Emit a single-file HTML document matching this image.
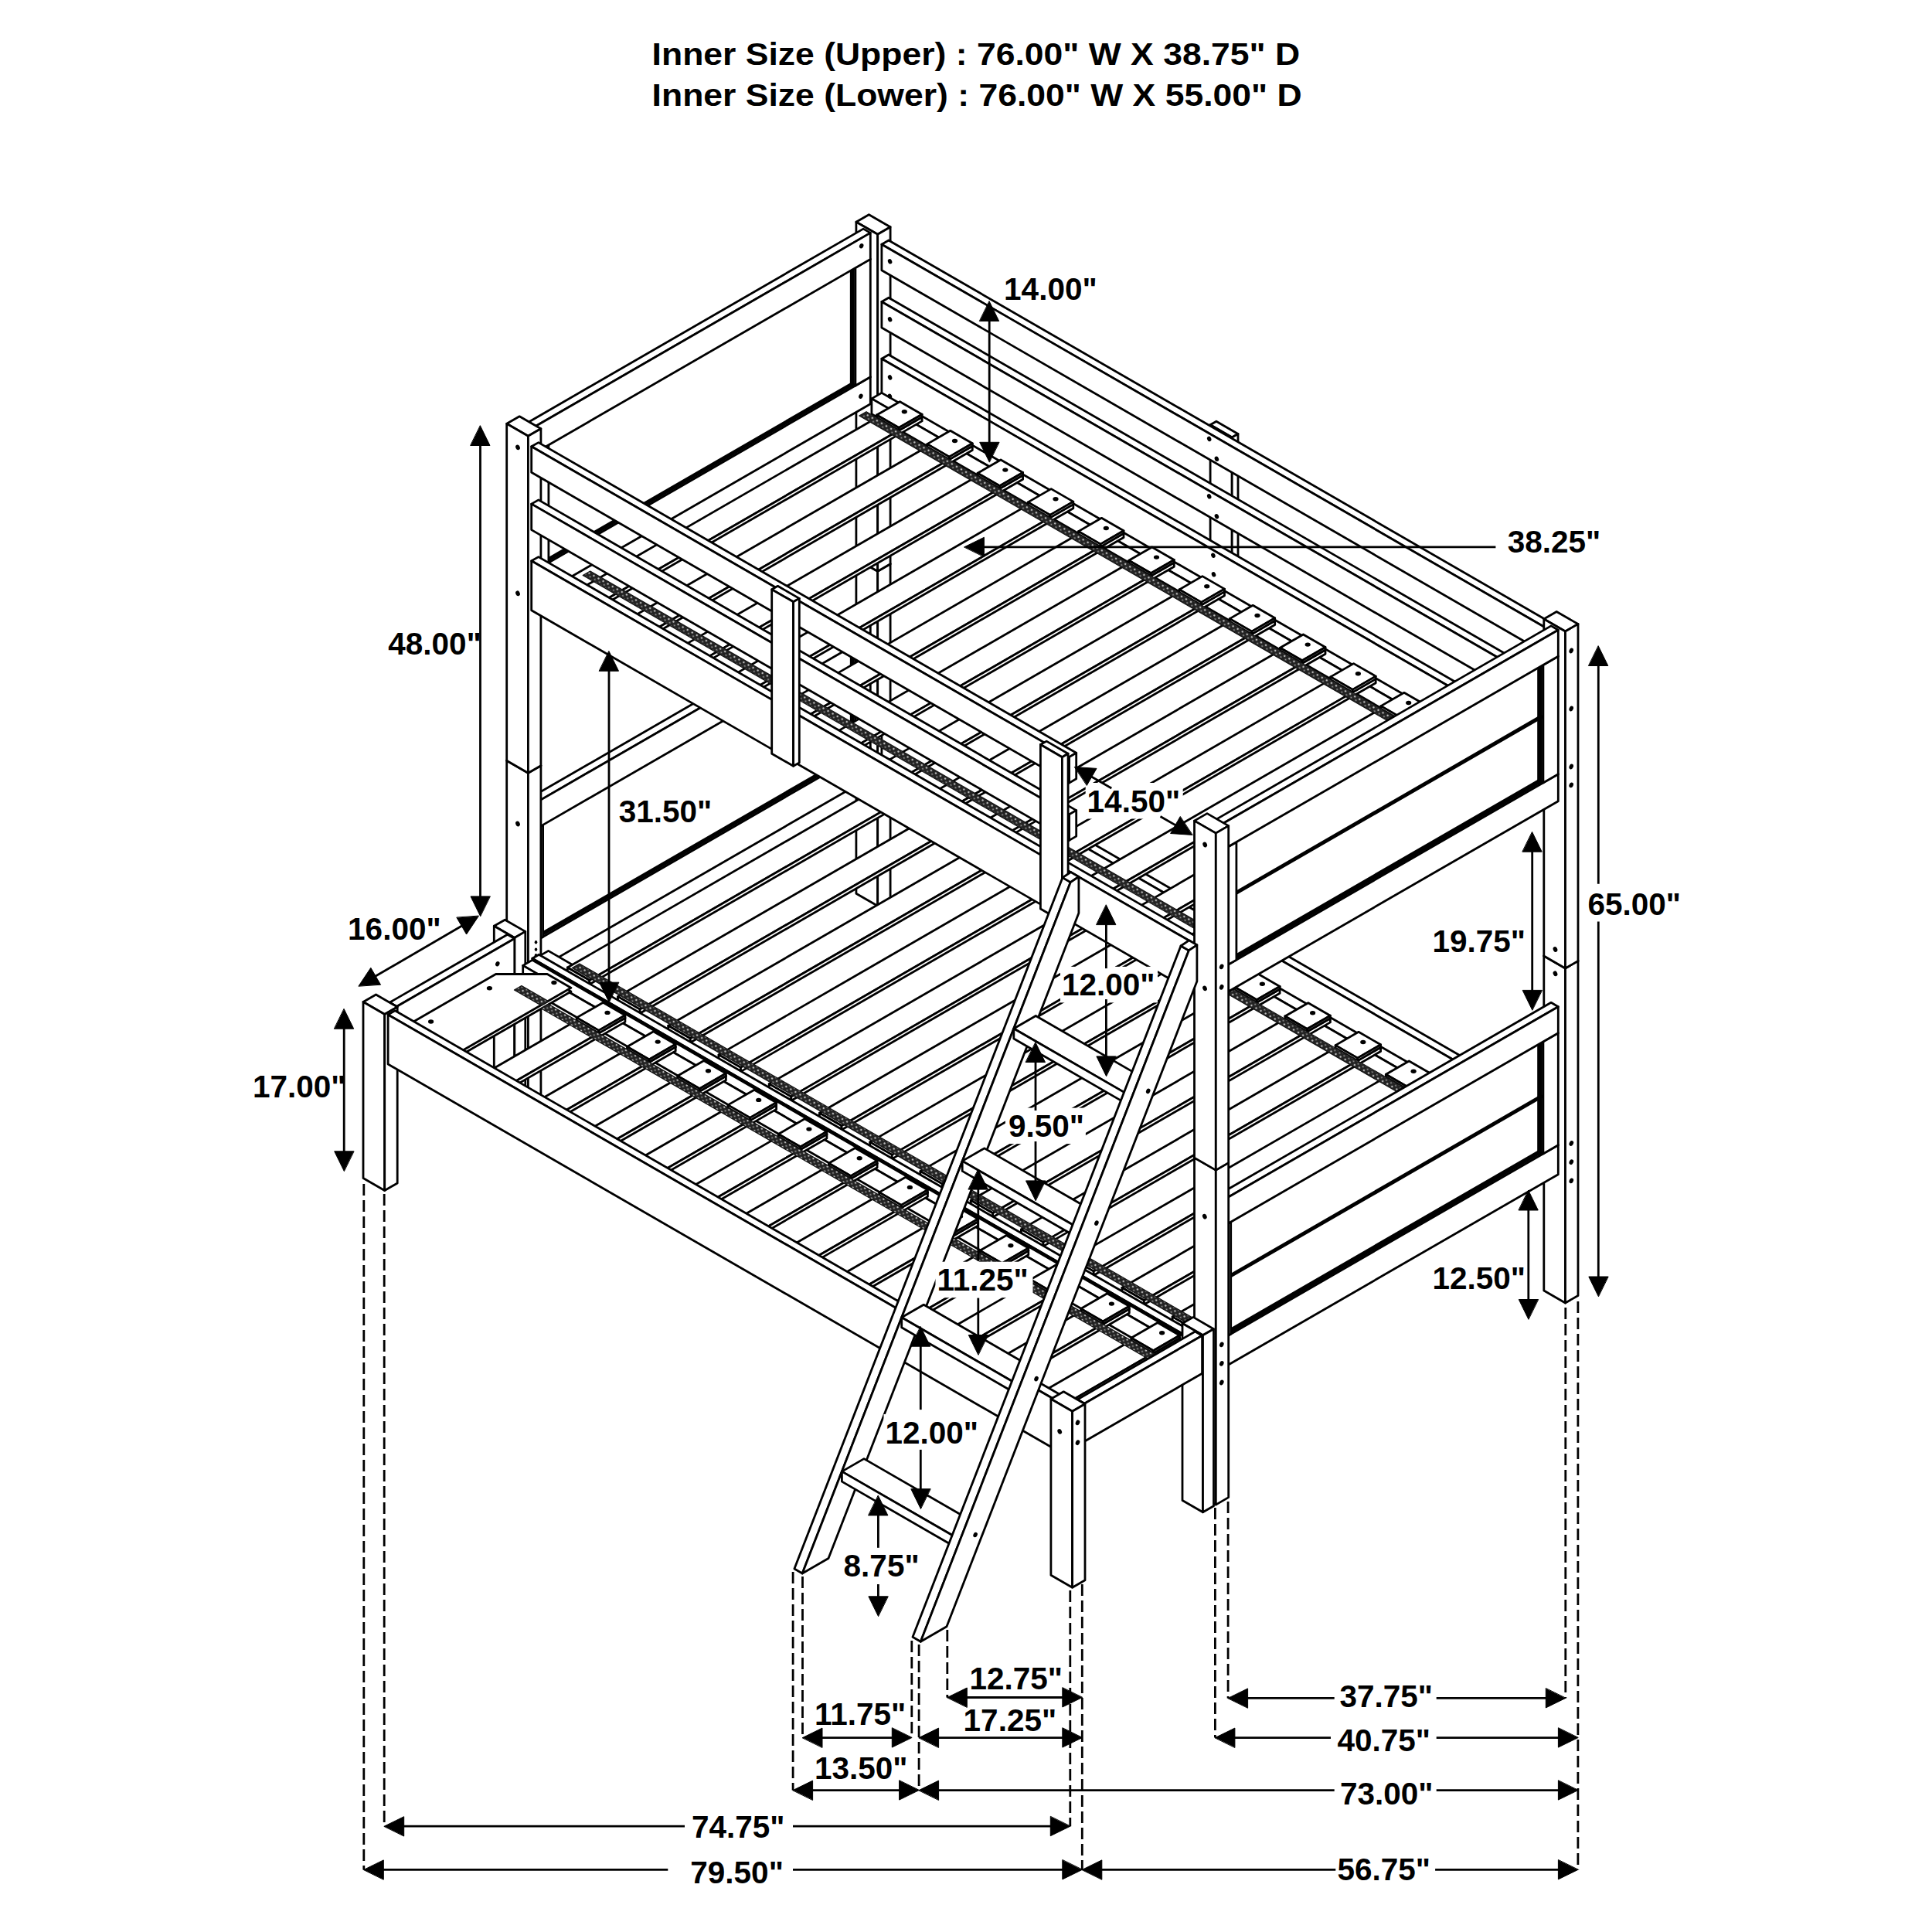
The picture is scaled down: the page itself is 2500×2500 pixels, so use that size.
<!DOCTYPE html><html><head><meta charset="utf-8"><style>html,body{margin:0;padding:0;background:#fff}svg{display:block}text{font-family:"Liberation Sans",sans-serif;font-weight:bold;font-size:40.5px;fill:#000}</style></head><body>
<svg width="2500" height="2500" viewBox="0 0 2500 2500" stroke-linejoin="round" stroke-linecap="round">
<defs><pattern id="hatch" width="7" height="7" patternUnits="userSpaceOnUse" patternTransform="rotate(30)"><rect width="7" height="7" fill="#222"/><circle cx="2" cy="2" r="1.3" fill="#bbb"/><circle cx="5.5" cy="5.5" r="1.1" fill="#999"/></pattern></defs>
<rect width="2500" height="2500" fill="#fff"/>
<polygon points="1107.9,723.2 1124.4,713.7 1152.1,729.7 1152.1,1162.7 1135.7,1172.2 1107.9,1156.2" fill="#fff" stroke="none"/>
<polygon points="1124.4,713.7 1152.1,729.7 1135.7,739.2 1107.9,723.2" fill="#fff" stroke="#000" stroke-width="2.8"/>
<polygon points="1107.9,723.2 1135.7,739.2 1135.7,1172.2 1107.9,1156.2" fill="#fff" stroke="#000" stroke-width="2.8"/>
<polygon points="1152.1,729.7 1135.7,739.2 1135.7,1172.2 1152.1,1162.7" fill="#fff" stroke="#000" stroke-width="2.8"/>

<polygon points="1107.9,287.2 1124.4,277.7 1152.1,293.7 1152.1,729.7 1135.7,739.2 1107.9,723.2" fill="#fff" stroke="none"/>
<polygon points="1124.4,277.7 1152.1,293.7 1135.7,303.2 1107.9,287.2" fill="#fff" stroke="#000" stroke-width="2.8"/>
<polygon points="1107.9,287.2 1135.7,303.2 1135.7,739.2 1107.9,723.2" fill="#fff" stroke="#000" stroke-width="2.8"/>
<polygon points="1152.1,293.7 1135.7,303.2 1135.7,739.2 1152.1,729.7" fill="#fff" stroke="#000" stroke-width="2.8"/>

<polygon points="1566.1,549.7 1573.9,545.2 1602,561.5 1602,772 1594.2,776.5 1566.1,760.2" fill="#fff" stroke="none"/>
<polygon points="1573.9,545.2 1602,561.5 1594.2,566 1566.1,549.7" fill="#fff" stroke="#000" stroke-width="2.8"/>
<polygon points="1566.1,549.7 1594.2,566 1594.2,776.5 1566.1,760.2" fill="#fff" stroke="#000" stroke-width="2.8"/>
<polygon points="1602,561.5 1594.2,566 1594.2,776.5 1602,772" fill="#fff" stroke="#000" stroke-width="2.8"/>

<polygon points="681.3,734.1 1117.1,482.5 1126.3,487.8 1126.3,522.8 690.5,774.4 681.3,769.1" fill="#fff" stroke="none"/>
<polygon points="1117.1,482.5 1126.3,487.8 690.5,739.4 681.3,734.1" fill="#fff" stroke="#000" stroke-width="2.8"/>
<polygon points="681.3,734.1 690.5,739.4 690.5,774.4 681.3,769.1" fill="#fff" stroke="#000" stroke-width="2.8"/>
<polygon points="1126.3,487.8 690.5,739.4 690.5,774.4 1126.3,522.8" fill="#fff" stroke="#000" stroke-width="2.8"/>

<polygon points="1097.7,341.3 1117.1,330.1 1126.3,335.4 1126.3,487.8 1106.9,499 1097.7,493.7" fill="#fff" stroke="none"/>
<polygon points="1117.1,330.1 1126.3,335.4 1106.9,346.6 1097.7,341.3" fill="#fff" stroke="#000" stroke-width="2.8"/>
<polygon points="1097.7,341.3 1106.9,346.6 1106.9,499 1097.7,493.7" fill="#fff" stroke="#000" stroke-width="2.8"/>
<polygon points="1126.3,335.4 1106.9,346.6 1106.9,499 1126.3,487.8" fill="#fff" stroke="#000" stroke-width="2.8"/>

<polygon points="702.5,571.5 1099.5,342.3 1104.3,345.1 1104.3,497.5 707.3,726.7 702.5,723.9" fill="#fff" stroke="none"/>
<polygon points="1099.5,342.3 1104.3,345.1 707.3,574.3 702.5,571.5" fill="#fff" stroke="#000" stroke-width="2.8"/>
<polygon points="702.5,571.5 707.3,574.3 707.3,726.7 702.5,723.9" fill="#fff" stroke="#000" stroke-width="2.8"/>
<polygon points="1104.3,345.1 707.3,574.3 707.3,726.7 1104.3,497.5" fill="#fff" stroke="#000" stroke-width="2.8"/>
<polyline points="1101.7,497 707.3,724.7" fill="none" stroke="#000" stroke-width="4.2" /><polyline points="1102.1,498.8 1102.1,346.4" fill="none" stroke="#000" stroke-width="4.5" />
<polygon points="681.3,581.7 700.7,570.5 709.9,575.8 709.9,728.2 690.5,739.4 681.3,734.1" fill="#fff" stroke="none"/>
<polygon points="700.7,570.5 709.9,575.8 690.5,587 681.3,581.7" fill="#fff" stroke="#000" stroke-width="2.8"/>
<polygon points="681.3,581.7 690.5,587 690.5,739.4 681.3,734.1" fill="#fff" stroke="#000" stroke-width="2.8"/>
<polygon points="709.9,575.8 690.5,587 690.5,739.4 709.9,728.2" fill="#fff" stroke="#000" stroke-width="2.8"/>

<polygon points="681.3,547.7 1117.1,296.1 1126.3,301.4 1126.3,335.4 690.5,587 681.3,581.7" fill="#fff" stroke="none"/>
<polygon points="1117.1,296.1 1126.3,301.4 690.5,553 681.3,547.7" fill="#fff" stroke="#000" stroke-width="2.8"/>
<polygon points="681.3,547.7 690.5,553 690.5,587 681.3,581.7" fill="#fff" stroke="#000" stroke-width="2.8"/>
<polygon points="1126.3,301.4 690.5,553 690.5,587 1126.3,335.4" fill="#fff" stroke="#000" stroke-width="2.8"/>

<polygon points="1140.9,944.2 1149.9,939 2012.1,1436.7 2012.1,1500.7 2003,1506 1140.9,1008.2" fill="#fff" stroke="none"/>
<polygon points="1149.9,939 2012.1,1436.7 2003,1442 1140.9,944.2" fill="#fff" stroke="#000" stroke-width="2.8"/>
<polygon points="1140.9,944.2 2003,1442 2003,1506 1140.9,1008.2" fill="#fff" stroke="#000" stroke-width="2.8"/>
<polygon points="2012.1,1436.7 2003,1442 2003,1506 2012.1,1500.7" fill="#fff" stroke="#000" stroke-width="2.8"/>

<polygon points="1140.9,464.2 1149.9,459 2012.1,956.7 2012.1,1020.7 2003,1026 1140.9,528.2" fill="#fff" stroke="none"/>
<polygon points="1149.9,459 2012.1,956.7 2003,962 1140.9,464.2" fill="#fff" stroke="#000" stroke-width="2.8"/>
<polygon points="1140.9,464.2 2003,962 2003,1026 1140.9,528.2" fill="#fff" stroke="#000" stroke-width="2.8"/>
<polygon points="2012.1,956.7 2003,962 2003,1026 2012.1,1020.7" fill="#fff" stroke="#000" stroke-width="2.8"/>

<polygon points="1140.9,390.5 1149.9,385.2 2012.1,883 2012.1,916.5 2003,921.8 1140.9,424" fill="#fff" stroke="none"/>
<polygon points="1149.9,385.2 2012.1,883 2003,888.2 1140.9,390.5" fill="#fff" stroke="#000" stroke-width="2.8"/>
<polygon points="1140.9,390.5 2003,888.2 2003,921.8 1140.9,424" fill="#fff" stroke="#000" stroke-width="2.8"/>
<polygon points="2012.1,883 2003,888.2 2003,921.8 2012.1,916.5" fill="#fff" stroke="#000" stroke-width="2.8"/>

<polygon points="1140.9,316.2 1149.9,311 2012.1,808.7 2012.1,842.2 2003,847.5 1140.9,349.7" fill="#fff" stroke="none"/>
<polygon points="1149.9,311 2012.1,808.7 2003,814 1140.9,316.2" fill="#fff" stroke="#000" stroke-width="2.8"/>
<polygon points="1140.9,316.2 2003,814 2003,847.5 1140.9,349.7" fill="#fff" stroke="#000" stroke-width="2.8"/>
<polygon points="2012.1,808.7 2003,814 2003,847.5 2012.1,842.2" fill="#fff" stroke="#000" stroke-width="2.8"/>

<polygon points="681.3,1214.1 1117.1,962.5 1126.3,967.8 1126.3,1005.8 690.5,1257.4 681.3,1252.1" fill="#fff" stroke="none"/>
<polygon points="1117.1,962.5 1126.3,967.8 690.5,1219.4 681.3,1214.1" fill="#fff" stroke="#000" stroke-width="2.8"/>
<polygon points="681.3,1214.1 690.5,1219.4 690.5,1257.4 681.3,1252.1" fill="#fff" stroke="#000" stroke-width="2.8"/>
<polygon points="1126.3,967.8 690.5,1219.4 690.5,1257.4 1126.3,1005.8" fill="#fff" stroke="#000" stroke-width="2.8"/>

<polygon points="1127.9,988.9 1140.9,981.4 2003,1479.2 2003,1506 1990,1513.5 1127.9,1015.7" fill="#fff" stroke="none"/>
<polygon points="1140.9,981.4 2003,1479.2 1990,1486.7 1127.9,988.9" fill="#fff" stroke="#000" stroke-width="2.8"/>
<polygon points="1127.9,988.9 1990,1486.7 1990,1513.5 1127.9,1015.7" fill="#fff" stroke="#000" stroke-width="2.8"/>
<polygon points="2003,1479.2 1990,1486.7 1990,1513.5 2003,1506" fill="#fff" stroke="#000" stroke-width="2.8"/>

<polygon points="1997.8,1237 2014.2,1227.5 2042,1243.5 2042,1676.5 2025.5,1686 1997.8,1670" fill="#fff" stroke="none"/>
<polygon points="2014.2,1227.5 2042,1243.5 2025.5,1253 1997.8,1237" fill="#fff" stroke="#000" stroke-width="2.8"/>
<polygon points="1997.8,1237 2025.5,1253 2025.5,1686 1997.8,1670" fill="#fff" stroke="#000" stroke-width="2.8"/>
<polygon points="2042,1243.5 2025.5,1253 2025.5,1686 2042,1676.5" fill="#fff" stroke="#000" stroke-width="2.8"/>

<polygon points="1097.7,828.7 1117.1,817.5 1126.3,822.8 1126.3,967.8 1106.9,979 1097.7,973.7" fill="#fff" stroke="none"/>
<polygon points="1117.1,817.5 1126.3,822.8 1106.9,834 1097.7,828.7" fill="#fff" stroke="#000" stroke-width="2.8"/>
<polygon points="1097.7,828.7 1106.9,834 1106.9,979 1097.7,973.7" fill="#fff" stroke="#000" stroke-width="2.8"/>
<polygon points="1126.3,822.8 1106.9,834 1106.9,979 1126.3,967.8" fill="#fff" stroke="#000" stroke-width="2.8"/>

<polygon points="695.2,1063.1 1099.5,829.7 1104.3,832.5 1104.3,977.5 700,1210.9 695.2,1208.1" fill="#fff" stroke="none"/>
<polygon points="1099.5,829.7 1104.3,832.5 700,1065.9 695.2,1063.1" fill="#fff" stroke="#000" stroke-width="2.8"/>
<polygon points="695.2,1063.1 700,1065.9 700,1210.9 695.2,1208.1" fill="#fff" stroke="#000" stroke-width="2.8"/>
<polygon points="1104.3,832.5 700,1065.9 700,1210.9 1104.3,977.5" fill="#fff" stroke="#000" stroke-width="2.8"/>
<polyline points="1101.7,977 700,1208.9" fill="none" stroke="#000" stroke-width="4.2" /><polyline points="1102.1,978.8 1102.1,833.8" fill="none" stroke="#000" stroke-width="4.5" />
<polygon points="681.3,1069.1 693.5,1062.1 702.6,1067.4 702.6,1212.4 690.5,1219.4 681.3,1214.1" fill="#fff" stroke="none"/>
<polygon points="693.5,1062.1 702.6,1067.4 690.5,1074.4 681.3,1069.1" fill="#fff" stroke="#000" stroke-width="2.8"/>
<polygon points="681.3,1069.1 690.5,1074.4 690.5,1219.4 681.3,1214.1" fill="#fff" stroke="#000" stroke-width="2.8"/>
<polygon points="702.6,1067.4 690.5,1074.4 690.5,1219.4 702.6,1212.4" fill="#fff" stroke="#000" stroke-width="2.8"/>

<polygon points="681.3,1035.1 1117.1,783.5 1126.3,788.8 1126.3,822.8 690.5,1074.4 681.3,1069.1" fill="#fff" stroke="none"/>
<polygon points="1117.1,783.5 1126.3,788.8 690.5,1040.4 681.3,1035.1" fill="#fff" stroke="#000" stroke-width="2.8"/>
<polygon points="681.3,1035.1 690.5,1040.4 690.5,1074.4 681.3,1069.1" fill="#fff" stroke="#000" stroke-width="2.8"/>
<polygon points="1126.3,788.8 690.5,1040.4 690.5,1074.4 1126.3,822.8" fill="#fff" stroke="#000" stroke-width="2.8"/>

<polygon points="655.7,984.3 672.2,974.8 699.9,990.8 699.9,1423.8 683.4,1433.3 655.7,1417.3" fill="#fff" stroke="none"/>
<polygon points="672.2,974.8 699.9,990.8 683.4,1000.3 655.7,984.3" fill="#fff" stroke="#000" stroke-width="2.8"/>
<polygon points="655.7,984.3 683.4,1000.3 683.4,1433.3 655.7,1417.3" fill="#fff" stroke="#000" stroke-width="2.8"/>
<polygon points="699.9,990.8 683.4,1000.3 683.4,1433.3 699.9,1423.8" fill="#fff" stroke="#000" stroke-width="2.8"/>

<polygon points="655.7,548.3 672.2,538.8 699.9,554.8 699.9,990.8 683.4,1000.3 655.7,984.3" fill="#fff" stroke="none"/>
<polygon points="672.2,538.8 699.9,554.8 683.4,564.3 655.7,548.3" fill="#fff" stroke="#000" stroke-width="2.8"/>
<polygon points="655.7,548.3 683.4,564.3 683.4,1000.3 655.7,984.3" fill="#fff" stroke="#000" stroke-width="2.8"/>
<polygon points="699.9,554.8 683.4,564.3 683.4,1000.3 699.9,990.8" fill="#fff" stroke="#000" stroke-width="2.8"/>

<polygon points="697.4,1237.4 709.6,1230.4 1571.7,1728.2 1571.7,1755 1559.6,1762 697.4,1264.2" fill="#fff" stroke="none"/>
<polygon points="709.6,1230.4 1571.7,1728.2 1559.6,1735.2 697.4,1237.4" fill="#fff" stroke="#000" stroke-width="2.8"/>
<polygon points="697.4,1237.4 1559.6,1735.2 1559.6,1762 697.4,1264.2" fill="#fff" stroke="#000" stroke-width="2.8"/>
<polygon points="1571.7,1728.2 1559.6,1735.2 1559.6,1762 1571.7,1755" fill="#fff" stroke="#000" stroke-width="2.8"/>

<polygon points="734.3,1252 1170.9,999.9 1199.5,1016.4 1199.5,1021.6 762.8,1273.7 734.3,1257.2" fill="#fff" stroke="none"/>
<polygon points="1170.9,999.9 1199.5,1016.4 762.8,1268.5 734.3,1252" fill="#fff" stroke="#000" stroke-width="2.8"/>
<polygon points="734.3,1252 762.8,1268.5 762.8,1273.7 734.3,1257.2" fill="#fff" stroke="#000" stroke-width="2.8"/>
<polygon points="1199.5,1016.4 762.8,1268.5 762.8,1273.7 1199.5,1021.6" fill="#fff" stroke="#000" stroke-width="2.8"/>

<polygon points="1140.9,1013.7 1170.9,996.4 1199.5,1012.9 1199.5,1016.4 1169.5,1033.7 1140.9,1017.2" fill="#fff" stroke="none"/>
<polygon points="1170.9,996.4 1199.5,1012.9 1169.5,1030.2 1140.9,1013.7" fill="#fff" stroke="#000" stroke-width="2.8"/>
<polygon points="1140.9,1013.7 1169.5,1030.2 1169.5,1033.7 1140.9,1017.2" fill="#fff" stroke="#000" stroke-width="2.8"/>
<polygon points="1199.5,1012.9 1169.5,1030.2 1169.5,1033.7 1199.5,1016.4" fill="#fff" stroke="#000" stroke-width="2.8"/>
<ellipse cx="1176.7" cy="1009.5" rx="3.6" ry="2.7" transform="rotate(0 1176.7 1009.5)" fill="#000"/>
<polygon points="799.5,1289.6 1236.1,1037.5 1264.7,1054 1264.7,1059.2 828.1,1311.3 799.5,1294.8" fill="#fff" stroke="none"/>
<polygon points="1236.1,1037.5 1264.7,1054 828.1,1306.1 799.5,1289.6" fill="#fff" stroke="#000" stroke-width="2.8"/>
<polygon points="799.5,1289.6 828.1,1306.1 828.1,1311.3 799.5,1294.8" fill="#fff" stroke="#000" stroke-width="2.8"/>
<polygon points="1264.7,1054 828.1,1306.1 828.1,1311.3 1264.7,1059.2" fill="#fff" stroke="#000" stroke-width="2.8"/>

<polygon points="1206.2,1051.3 1236.1,1034 1264.7,1050.5 1264.7,1054 1234.8,1071.3 1206.2,1054.8" fill="#fff" stroke="none"/>
<polygon points="1236.1,1034 1264.7,1050.5 1234.8,1067.8 1206.2,1051.3" fill="#fff" stroke="#000" stroke-width="2.8"/>
<polygon points="1206.2,1051.3 1234.8,1067.8 1234.8,1071.3 1206.2,1054.8" fill="#fff" stroke="#000" stroke-width="2.8"/>
<polygon points="1264.7,1050.5 1234.8,1067.8 1234.8,1071.3 1264.7,1054" fill="#fff" stroke="#000" stroke-width="2.8"/>
<ellipse cx="1241.9" cy="1047.2" rx="3.6" ry="2.7" transform="rotate(0 1241.9 1047.2)" fill="#000"/>
<polygon points="1127.9,515.9 1140.9,508.4 2003,1006.2 2003,1026 1990,1033.5 1127.9,535.7" fill="#fff" stroke="none"/>
<polygon points="1140.9,508.4 2003,1006.2 1990,1013.7 1127.9,515.9" fill="#fff" stroke="#000" stroke-width="2.8"/>
<polygon points="1127.9,515.9 1990,1013.7 1990,1033.5 1127.9,535.7" fill="#fff" stroke="#000" stroke-width="2.8"/>
<polygon points="2003,1006.2 1990,1013.7 1990,1033.5 2003,1026" fill="#fff" stroke="#000" stroke-width="2.8"/>

<polygon points="1997.8,801 2014.2,791.5 2042,807.5 2042,1243.5 2025.5,1253 1997.8,1237" fill="#fff" stroke="none"/>
<polygon points="2014.2,791.5 2042,807.5 2025.5,817 1997.8,801" fill="#fff" stroke="#000" stroke-width="2.8"/>
<polygon points="1997.8,801 2025.5,817 2025.5,1253 1997.8,1237" fill="#fff" stroke="#000" stroke-width="2.8"/>
<polygon points="2042,807.5 2025.5,817 2025.5,1253 2042,1243.5" fill="#fff" stroke="#000" stroke-width="2.8"/>

<polygon points="864.7,1327.3 1301.4,1075.2 1330,1091.7 1330,1096.9 893.3,1349 864.7,1332.5" fill="#fff" stroke="none"/>
<polygon points="1301.4,1075.2 1330,1091.7 893.3,1343.8 864.7,1327.3" fill="#fff" stroke="#000" stroke-width="2.8"/>
<polygon points="864.7,1327.3 893.3,1343.8 893.3,1349 864.7,1332.5" fill="#fff" stroke="#000" stroke-width="2.8"/>
<polygon points="1330,1091.7 893.3,1343.8 893.3,1349 1330,1096.9" fill="#fff" stroke="#000" stroke-width="2.8"/>

<polygon points="1271.4,1089 1301.4,1071.7 1330,1088.2 1330,1091.7 1300,1109 1271.4,1092.5" fill="#fff" stroke="none"/>
<polygon points="1301.4,1071.7 1330,1088.2 1300,1105.5 1271.4,1089" fill="#fff" stroke="#000" stroke-width="2.8"/>
<polygon points="1271.4,1089 1300,1105.5 1300,1109 1271.4,1092.5" fill="#fff" stroke="#000" stroke-width="2.8"/>
<polygon points="1330,1088.2 1300,1105.5 1300,1109 1330,1091.7" fill="#fff" stroke="#000" stroke-width="2.8"/>
<ellipse cx="1307.2" cy="1084.8" rx="3.6" ry="2.7" transform="rotate(0 1307.2 1084.8)" fill="#000"/>
<polygon points="930,1364.9 1366.6,1112.8 1395.2,1129.3 1395.2,1134.5 958.5,1386.6 930,1370.1" fill="#fff" stroke="none"/>
<polygon points="1366.6,1112.8 1395.2,1129.3 958.5,1381.4 930,1364.9" fill="#fff" stroke="#000" stroke-width="2.8"/>
<polygon points="930,1364.9 958.5,1381.4 958.5,1386.6 930,1370.1" fill="#fff" stroke="#000" stroke-width="2.8"/>
<polygon points="1395.2,1129.3 958.5,1381.4 958.5,1386.6 1395.2,1134.5" fill="#fff" stroke="#000" stroke-width="2.8"/>

<polygon points="1336.7,1126.6 1366.6,1109.3 1395.2,1125.8 1395.2,1129.3 1365.2,1146.6 1336.7,1130.1" fill="#fff" stroke="none"/>
<polygon points="1366.6,1109.3 1395.2,1125.8 1365.2,1143.1 1336.7,1126.6" fill="#fff" stroke="#000" stroke-width="2.8"/>
<polygon points="1336.7,1126.6 1365.2,1143.1 1365.2,1146.6 1336.7,1130.1" fill="#fff" stroke="#000" stroke-width="2.8"/>
<polygon points="1395.2,1125.8 1365.2,1143.1 1365.2,1146.6 1395.2,1129.3" fill="#fff" stroke="#000" stroke-width="2.8"/>
<ellipse cx="1372.4" cy="1122.5" rx="3.6" ry="2.7" transform="rotate(0 1372.4 1122.5)" fill="#000"/>
<polygon points="995.2,1402.6 1431.9,1150.5 1460.4,1167 1460.4,1172.2 1023.8,1424.3 995.2,1407.8" fill="#fff" stroke="none"/>
<polygon points="1431.9,1150.5 1460.4,1167 1023.8,1419.1 995.2,1402.6" fill="#fff" stroke="#000" stroke-width="2.8"/>
<polygon points="995.2,1402.6 1023.8,1419.1 1023.8,1424.3 995.2,1407.8" fill="#fff" stroke="#000" stroke-width="2.8"/>
<polygon points="1460.4,1167 1023.8,1419.1 1023.8,1424.3 1460.4,1172.2" fill="#fff" stroke="#000" stroke-width="2.8"/>

<polygon points="1401.9,1164.3 1431.9,1147 1460.4,1163.5 1460.4,1167 1430.5,1184.3 1401.9,1167.8" fill="#fff" stroke="none"/>
<polygon points="1431.9,1147 1460.4,1163.5 1430.5,1180.8 1401.9,1164.3" fill="#fff" stroke="#000" stroke-width="2.8"/>
<polygon points="1401.9,1164.3 1430.5,1180.8 1430.5,1184.3 1401.9,1167.8" fill="#fff" stroke="#000" stroke-width="2.8"/>
<polygon points="1460.4,1163.5 1430.5,1180.8 1430.5,1184.3 1460.4,1167" fill="#fff" stroke="#000" stroke-width="2.8"/>
<ellipse cx="1437.7" cy="1160.2" rx="3.6" ry="2.7" transform="rotate(0 1437.7 1160.2)" fill="#000"/>
<polygon points="1060.4,1440.3 1497.1,1188.2 1525.7,1204.7 1525.7,1209.9 1089,1462 1060.4,1445.5" fill="#fff" stroke="none"/>
<polygon points="1497.1,1188.2 1525.7,1204.7 1089,1456.8 1060.4,1440.3" fill="#fff" stroke="#000" stroke-width="2.8"/>
<polygon points="1060.4,1440.3 1089,1456.8 1089,1462 1060.4,1445.5" fill="#fff" stroke="#000" stroke-width="2.8"/>
<polygon points="1525.7,1204.7 1089,1456.8 1089,1462 1525.7,1209.9" fill="#fff" stroke="#000" stroke-width="2.8"/>

<polygon points="1467.1,1202 1497.1,1184.7 1525.7,1201.2 1525.7,1204.7 1495.7,1222 1467.1,1205.5" fill="#fff" stroke="none"/>
<polygon points="1497.1,1184.7 1525.7,1201.2 1495.7,1218.5 1467.1,1202" fill="#fff" stroke="#000" stroke-width="2.8"/>
<polygon points="1467.1,1202 1495.7,1218.5 1495.7,1222 1467.1,1205.5" fill="#fff" stroke="#000" stroke-width="2.8"/>
<polygon points="1525.7,1201.2 1495.7,1218.5 1495.7,1222 1525.7,1204.7" fill="#fff" stroke="#000" stroke-width="2.8"/>
<ellipse cx="1502.9" cy="1197.8" rx="3.6" ry="2.7" transform="rotate(0 1502.9 1197.8)" fill="#000"/>
<polygon points="1125.7,1477.9 1562.3,1225.8 1590.9,1242.3 1590.9,1247.5 1154.3,1499.6 1125.7,1483.1" fill="#fff" stroke="none"/>
<polygon points="1562.3,1225.8 1590.9,1242.3 1154.3,1494.4 1125.7,1477.9" fill="#fff" stroke="#000" stroke-width="2.8"/>
<polygon points="1125.7,1477.9 1154.3,1494.4 1154.3,1499.6 1125.7,1483.1" fill="#fff" stroke="#000" stroke-width="2.8"/>
<polygon points="1590.9,1242.3 1154.3,1494.4 1154.3,1499.6 1590.9,1247.5" fill="#fff" stroke="#000" stroke-width="2.8"/>

<polygon points="1532.4,1239.6 1562.3,1222.3 1590.9,1238.8 1590.9,1242.3 1560.9,1259.6 1532.4,1243.1" fill="#fff" stroke="none"/>
<polygon points="1562.3,1222.3 1590.9,1238.8 1560.9,1256.1 1532.4,1239.6" fill="#fff" stroke="#000" stroke-width="2.8"/>
<polygon points="1532.4,1239.6 1560.9,1256.1 1560.9,1259.6 1532.4,1243.1" fill="#fff" stroke="#000" stroke-width="2.8"/>
<polygon points="1590.9,1238.8 1560.9,1256.1 1560.9,1259.6 1590.9,1242.3" fill="#fff" stroke="#000" stroke-width="2.8"/>
<ellipse cx="1568.1" cy="1235.5" rx="3.6" ry="2.7" transform="rotate(0 1568.1 1235.5)" fill="#000"/>
<polygon points="1190.9,1515.6 1627.6,1263.5 1656.1,1280 1656.1,1285.2 1219.5,1537.3 1190.9,1520.8" fill="#fff" stroke="none"/>
<polygon points="1627.6,1263.5 1656.1,1280 1219.5,1532.1 1190.9,1515.6" fill="#fff" stroke="#000" stroke-width="2.8"/>
<polygon points="1190.9,1515.6 1219.5,1532.1 1219.5,1537.3 1190.9,1520.8" fill="#fff" stroke="#000" stroke-width="2.8"/>
<polygon points="1656.1,1280 1219.5,1532.1 1219.5,1537.3 1656.1,1285.2" fill="#fff" stroke="#000" stroke-width="2.8"/>

<polygon points="1597.6,1277.3 1627.6,1260 1656.1,1276.5 1656.1,1280 1626.2,1297.3 1597.6,1280.8" fill="#fff" stroke="none"/>
<polygon points="1627.6,1260 1656.1,1276.5 1626.2,1293.8 1597.6,1277.3" fill="#fff" stroke="#000" stroke-width="2.8"/>
<polygon points="1597.6,1277.3 1626.2,1293.8 1626.2,1297.3 1597.6,1280.8" fill="#fff" stroke="#000" stroke-width="2.8"/>
<polygon points="1656.1,1276.5 1626.2,1293.8 1626.2,1297.3 1656.1,1280" fill="#fff" stroke="#000" stroke-width="2.8"/>
<ellipse cx="1633.4" cy="1273.2" rx="3.6" ry="2.7" transform="rotate(0 1633.4 1273.2)" fill="#000"/>
<polygon points="1256.2,1553.3 1692.8,1301.2 1721.4,1317.7 1721.4,1322.9 1284.7,1575 1256.2,1558.5" fill="#fff" stroke="none"/>
<polygon points="1692.8,1301.2 1721.4,1317.7 1284.7,1569.8 1256.2,1553.3" fill="#fff" stroke="#000" stroke-width="2.8"/>
<polygon points="1256.2,1553.3 1284.7,1569.8 1284.7,1575 1256.2,1558.5" fill="#fff" stroke="#000" stroke-width="2.8"/>
<polygon points="1721.4,1317.7 1284.7,1569.8 1284.7,1575 1721.4,1322.9" fill="#fff" stroke="#000" stroke-width="2.8"/>

<polygon points="1662.8,1315 1692.8,1297.7 1721.4,1314.2 1721.4,1317.7 1691.4,1335 1662.8,1318.5" fill="#fff" stroke="none"/>
<polygon points="1692.8,1297.7 1721.4,1314.2 1691.4,1331.5 1662.8,1315" fill="#fff" stroke="#000" stroke-width="2.8"/>
<polygon points="1662.8,1315 1691.4,1331.5 1691.4,1335 1662.8,1318.5" fill="#fff" stroke="#000" stroke-width="2.8"/>
<polygon points="1721.4,1314.2 1691.4,1331.5 1691.4,1335 1721.4,1317.7" fill="#fff" stroke="#000" stroke-width="2.8"/>
<ellipse cx="1698.6" cy="1310.8" rx="3.6" ry="2.7" transform="rotate(0 1698.6 1310.8)" fill="#000"/>
<polygon points="1321.4,1590.9 1758,1338.8 1786.6,1355.3 1786.6,1360.5 1350,1612.6 1321.4,1596.1" fill="#fff" stroke="none"/>
<polygon points="1758,1338.8 1786.6,1355.3 1350,1607.4 1321.4,1590.9" fill="#fff" stroke="#000" stroke-width="2.8"/>
<polygon points="1321.4,1590.9 1350,1607.4 1350,1612.6 1321.4,1596.1" fill="#fff" stroke="#000" stroke-width="2.8"/>
<polygon points="1786.6,1355.3 1350,1607.4 1350,1612.6 1786.6,1360.5" fill="#fff" stroke="#000" stroke-width="2.8"/>

<polygon points="1728.1,1352.6 1758,1335.3 1786.6,1351.8 1786.6,1355.3 1756.7,1372.6 1728.1,1356.1" fill="#fff" stroke="none"/>
<polygon points="1758,1335.3 1786.6,1351.8 1756.7,1369.1 1728.1,1352.6" fill="#fff" stroke="#000" stroke-width="2.8"/>
<polygon points="1728.1,1352.6 1756.7,1369.1 1756.7,1372.6 1728.1,1356.1" fill="#fff" stroke="#000" stroke-width="2.8"/>
<polygon points="1786.6,1351.8 1756.7,1369.1 1756.7,1372.6 1786.6,1355.3" fill="#fff" stroke="#000" stroke-width="2.8"/>
<ellipse cx="1763.8" cy="1348.5" rx="3.6" ry="2.7" transform="rotate(0 1763.8 1348.5)" fill="#000"/>
<polygon points="1386.6,1628.6 1823.3,1376.5 1851.9,1393 1851.9,1398.2 1415.2,1650.3 1386.6,1633.8" fill="#fff" stroke="none"/>
<polygon points="1823.3,1376.5 1851.9,1393 1415.2,1645.1 1386.6,1628.6" fill="#fff" stroke="#000" stroke-width="2.8"/>
<polygon points="1386.6,1628.6 1415.2,1645.1 1415.2,1650.3 1386.6,1633.8" fill="#fff" stroke="#000" stroke-width="2.8"/>
<polygon points="1851.9,1393 1415.2,1645.1 1415.2,1650.3 1851.9,1398.2" fill="#fff" stroke="#000" stroke-width="2.8"/>

<polygon points="1793.3,1390.3 1823.3,1373 1851.9,1389.5 1851.9,1393 1821.9,1410.3 1793.3,1393.8" fill="#fff" stroke="none"/>
<polygon points="1823.3,1373 1851.9,1389.5 1821.9,1406.8 1793.3,1390.3" fill="#fff" stroke="#000" stroke-width="2.8"/>
<polygon points="1793.3,1390.3 1821.9,1406.8 1821.9,1410.3 1793.3,1393.8" fill="#fff" stroke="#000" stroke-width="2.8"/>
<polygon points="1851.9,1389.5 1821.9,1406.8 1821.9,1410.3 1851.9,1393" fill="#fff" stroke="#000" stroke-width="2.8"/>
<ellipse cx="1829.1" cy="1386.2" rx="3.6" ry="2.7" transform="rotate(0 1829.1 1386.2)" fill="#000"/>
<polygon points="1451.9,1666.3 1888.5,1414.2 1917.1,1430.7 1917.1,1435.9 1480.4,1688 1451.9,1671.5" fill="#fff" stroke="none"/>
<polygon points="1888.5,1414.2 1917.1,1430.7 1480.4,1682.8 1451.9,1666.3" fill="#fff" stroke="#000" stroke-width="2.8"/>
<polygon points="1451.9,1666.3 1480.4,1682.8 1480.4,1688 1451.9,1671.5" fill="#fff" stroke="#000" stroke-width="2.8"/>
<polygon points="1917.1,1430.7 1480.4,1682.8 1480.4,1688 1917.1,1435.9" fill="#fff" stroke="#000" stroke-width="2.8"/>

<polygon points="1858.6,1428 1888.5,1410.7 1917.1,1427.2 1917.1,1430.7 1887.1,1448 1858.6,1431.5" fill="#fff" stroke="none"/>
<polygon points="1888.5,1410.7 1917.1,1427.2 1887.1,1444.5 1858.6,1428" fill="#fff" stroke="#000" stroke-width="2.8"/>
<polygon points="1858.6,1428 1887.1,1444.5 1887.1,1448 1858.6,1431.5" fill="#fff" stroke="#000" stroke-width="2.8"/>
<polygon points="1917.1,1427.2 1887.1,1444.5 1887.1,1448 1917.1,1430.7" fill="#fff" stroke="#000" stroke-width="2.8"/>
<ellipse cx="1894.3" cy="1423.8" rx="3.6" ry="2.7" transform="rotate(0 1894.3 1423.8)" fill="#000"/>
<polygon points="1517.1,1703.9 1953.8,1451.8 1982.3,1468.3 1982.3,1473.5 1545.7,1725.6 1517.1,1709.1" fill="#fff" stroke="none"/>
<polygon points="1953.8,1451.8 1982.3,1468.3 1545.7,1720.4 1517.1,1703.9" fill="#fff" stroke="#000" stroke-width="2.8"/>
<polygon points="1517.1,1703.9 1545.7,1720.4 1545.7,1725.6 1517.1,1709.1" fill="#fff" stroke="#000" stroke-width="2.8"/>
<polygon points="1982.3,1468.3 1545.7,1720.4 1545.7,1725.6 1982.3,1473.5" fill="#fff" stroke="#000" stroke-width="2.8"/>

<polygon points="688.8,1240.2 697.4,1235.2 1559.6,1733 1559.6,1783 1550.9,1788 688.8,1290.2" fill="#fff" stroke="none"/>
<polygon points="697.4,1235.2 1559.6,1733 1550.9,1738 688.8,1240.2" fill="#fff" stroke="#000" stroke-width="2.8"/>
<polygon points="688.8,1240.2 1550.9,1738 1550.9,1788 688.8,1290.2" fill="#fff" stroke="#000" stroke-width="2.8"/>
<polygon points="1559.6,1733 1550.9,1738 1550.9,1788 1559.6,1783" fill="#fff" stroke="#000" stroke-width="2.8"/>

<polygon points="1923.8,1465.6 1953.8,1448.3 1982.3,1464.8 1982.3,1468.3 1952.4,1485.6 1923.8,1469.1" fill="#fff" stroke="none"/>
<polygon points="1953.8,1448.3 1982.3,1464.8 1952.4,1482.1 1923.8,1465.6" fill="#fff" stroke="#000" stroke-width="2.8"/>
<polygon points="1923.8,1465.6 1952.4,1482.1 1952.4,1485.6 1923.8,1469.1" fill="#fff" stroke="#000" stroke-width="2.8"/>
<polygon points="1982.3,1464.8 1952.4,1482.1 1952.4,1485.6 1982.3,1468.3" fill="#fff" stroke="#000" stroke-width="2.8"/>
<ellipse cx="1959.6" cy="1461.5" rx="3.6" ry="2.7" transform="rotate(0 1959.6 1461.5)" fill="#000"/>
<polygon points="1128,1009.7 1956.7,1488.2 1947.6,1493.5 1118.8,1015" fill="url(#hatch)" stroke="#111" stroke-width="1.2"/>
<polygon points="749.8,1247 1562.2,1716 1552.6,1721.5 740.3,1252.5" fill="url(#hatch)" stroke="#111" stroke-width="1.2"/>
<polygon points="696.8,764.8 709.8,757.3 1572,1255 1572,1274.8 1559,1282.3 696.8,784.6" fill="#fff" stroke="none"/>
<polygon points="709.8,757.3 1572,1255 1559,1262.5 696.8,764.8" fill="#fff" stroke="#000" stroke-width="2.8"/>
<polygon points="696.8,764.8 1559,1262.5 1559,1282.3 696.8,784.6" fill="#fff" stroke="#000" stroke-width="2.8"/>
<polygon points="1572,1255 1559,1262.5 1559,1282.3 1572,1274.8" fill="#fff" stroke="#000" stroke-width="2.8"/>

<polygon points="727.2,775.6 1164.5,523.2 1193.1,539.7 1193.1,544.9 755.8,797.3 727.2,780.8" fill="#fff" stroke="none"/>
<polygon points="1164.5,523.2 1193.1,539.7 755.8,792.1 727.2,775.6" fill="#fff" stroke="#000" stroke-width="2.8"/>
<polygon points="727.2,775.6 755.8,792.1 755.8,797.3 727.2,780.8" fill="#fff" stroke="#000" stroke-width="2.8"/>
<polygon points="1193.1,539.7 755.8,792.1 755.8,797.3 1193.1,544.9" fill="#fff" stroke="#000" stroke-width="2.8"/>

<polygon points="1134.5,537 1164.5,519.7 1193.1,536.2 1193.1,539.7 1163.1,557 1134.5,540.5" fill="#fff" stroke="none"/>
<polygon points="1164.5,519.7 1193.1,536.2 1163.1,553.5 1134.5,537" fill="#fff" stroke="#000" stroke-width="2.8"/>
<polygon points="1134.5,537 1163.1,553.5 1163.1,557 1134.5,540.5" fill="#fff" stroke="#000" stroke-width="2.8"/>
<polygon points="1193.1,536.2 1163.1,553.5 1163.1,557 1193.1,539.7" fill="#fff" stroke="#000" stroke-width="2.8"/>
<ellipse cx="1170.3" cy="532.8" rx="3.6" ry="2.7" transform="rotate(0 1170.3 532.8)" fill="#000"/>
<polygon points="792.5,813.3 1229.7,560.8 1258.3,577.3 1258.3,582.5 821.1,835 792.5,818.5" fill="#fff" stroke="none"/>
<polygon points="1229.7,560.8 1258.3,577.3 821.1,829.8 792.5,813.3" fill="#fff" stroke="#000" stroke-width="2.8"/>
<polygon points="792.5,813.3 821.1,829.8 821.1,835 792.5,818.5" fill="#fff" stroke="#000" stroke-width="2.8"/>
<polygon points="1258.3,577.3 821.1,829.8 821.1,835 1258.3,582.5" fill="#fff" stroke="#000" stroke-width="2.8"/>

<polygon points="1199.8,574.6 1229.7,557.3 1258.3,573.8 1258.3,577.3 1228.3,594.6 1199.8,578.1" fill="#fff" stroke="none"/>
<polygon points="1229.7,557.3 1258.3,573.8 1228.3,591.1 1199.8,574.6" fill="#fff" stroke="#000" stroke-width="2.8"/>
<polygon points="1199.8,574.6 1228.3,591.1 1228.3,594.6 1199.8,578.1" fill="#fff" stroke="#000" stroke-width="2.8"/>
<polygon points="1258.3,573.8 1228.3,591.1 1228.3,594.6 1258.3,577.3" fill="#fff" stroke="#000" stroke-width="2.8"/>
<ellipse cx="1235.5" cy="570.5" rx="3.6" ry="2.7" transform="rotate(0 1235.5 570.5)" fill="#000"/>
<polygon points="857.7,850.9 1295,598.5 1323.6,615 1323.6,620.2 886.3,872.6 857.7,856.1" fill="#fff" stroke="none"/>
<polygon points="1295,598.5 1323.6,615 886.3,867.4 857.7,850.9" fill="#fff" stroke="#000" stroke-width="2.8"/>
<polygon points="857.7,850.9 886.3,867.4 886.3,872.6 857.7,856.1" fill="#fff" stroke="#000" stroke-width="2.8"/>
<polygon points="1323.6,615 886.3,867.4 886.3,872.6 1323.6,620.2" fill="#fff" stroke="#000" stroke-width="2.8"/>

<polygon points="1265,612.3 1295,595 1323.6,611.5 1323.6,615 1293.6,632.3 1265,615.8" fill="#fff" stroke="none"/>
<polygon points="1295,595 1323.6,611.5 1293.6,628.8 1265,612.3" fill="#fff" stroke="#000" stroke-width="2.8"/>
<polygon points="1265,612.3 1293.6,628.8 1293.6,632.3 1265,615.8" fill="#fff" stroke="#000" stroke-width="2.8"/>
<polygon points="1323.6,611.5 1293.6,628.8 1293.6,632.3 1323.6,615" fill="#fff" stroke="#000" stroke-width="2.8"/>
<ellipse cx="1300.8" cy="608.1" rx="3.6" ry="2.7" transform="rotate(0 1300.8 608.1)" fill="#000"/>
<polygon points="923,888.6 1360.2,636.1 1388.8,652.6 1388.8,657.8 951.5,910.3 923,893.8" fill="#fff" stroke="none"/>
<polygon points="1360.2,636.1 1388.8,652.6 951.5,905.1 923,888.6" fill="#fff" stroke="#000" stroke-width="2.8"/>
<polygon points="923,888.6 951.5,905.1 951.5,910.3 923,893.8" fill="#fff" stroke="#000" stroke-width="2.8"/>
<polygon points="1388.8,652.6 951.5,905.1 951.5,910.3 1388.8,657.8" fill="#fff" stroke="#000" stroke-width="2.8"/>

<polygon points="1330.2,649.9 1360.2,632.6 1388.8,649.1 1388.8,652.6 1358.8,669.9 1330.2,653.4" fill="#fff" stroke="none"/>
<polygon points="1360.2,632.6 1388.8,649.1 1358.8,666.4 1330.2,649.9" fill="#fff" stroke="#000" stroke-width="2.8"/>
<polygon points="1330.2,649.9 1358.8,666.4 1358.8,669.9 1330.2,653.4" fill="#fff" stroke="#000" stroke-width="2.8"/>
<polygon points="1388.8,649.1 1358.8,666.4 1358.8,669.9 1388.8,652.6" fill="#fff" stroke="#000" stroke-width="2.8"/>
<ellipse cx="1366" cy="645.8" rx="3.6" ry="2.7" transform="rotate(0 1366 645.8)" fill="#000"/>
<polygon points="988.2,926.3 1425.4,673.8 1454,690.3 1454,695.5 1016.8,948 988.2,931.5" fill="#fff" stroke="none"/>
<polygon points="1425.4,673.8 1454,690.3 1016.8,942.8 988.2,926.3" fill="#fff" stroke="#000" stroke-width="2.8"/>
<polygon points="988.2,926.3 1016.8,942.8 1016.8,948 988.2,931.5" fill="#fff" stroke="#000" stroke-width="2.8"/>
<polygon points="1454,690.3 1016.8,942.8 1016.8,948 1454,695.5" fill="#fff" stroke="#000" stroke-width="2.8"/>

<polygon points="1395.5,687.6 1425.4,670.3 1454,686.8 1454,690.3 1424.1,707.6 1395.5,691.1" fill="#fff" stroke="none"/>
<polygon points="1425.4,670.3 1454,686.8 1424.1,704.1 1395.5,687.6" fill="#fff" stroke="#000" stroke-width="2.8"/>
<polygon points="1395.5,687.6 1424.1,704.1 1424.1,707.6 1395.5,691.1" fill="#fff" stroke="#000" stroke-width="2.8"/>
<polygon points="1454,686.8 1424.1,704.1 1424.1,707.6 1454,690.3" fill="#fff" stroke="#000" stroke-width="2.8"/>
<ellipse cx="1431.3" cy="683.5" rx="3.6" ry="2.7" transform="rotate(0 1431.3 683.5)" fill="#000"/>
<polygon points="1053.4,963.9 1490.7,711.5 1519.3,728 1519.3,733.2 1082,985.6 1053.4,969.1" fill="#fff" stroke="none"/>
<polygon points="1490.7,711.5 1519.3,728 1082,980.4 1053.4,963.9" fill="#fff" stroke="#000" stroke-width="2.8"/>
<polygon points="1053.4,963.9 1082,980.4 1082,985.6 1053.4,969.1" fill="#fff" stroke="#000" stroke-width="2.8"/>
<polygon points="1519.3,728 1082,980.4 1082,985.6 1519.3,733.2" fill="#fff" stroke="#000" stroke-width="2.8"/>

<polygon points="1460.7,725.3 1490.7,708 1519.3,724.5 1519.3,728 1489.3,745.3 1460.7,728.8" fill="#fff" stroke="none"/>
<polygon points="1490.7,708 1519.3,724.5 1489.3,741.8 1460.7,725.3" fill="#fff" stroke="#000" stroke-width="2.8"/>
<polygon points="1460.7,725.3 1489.3,741.8 1489.3,745.3 1460.7,728.8" fill="#fff" stroke="#000" stroke-width="2.8"/>
<polygon points="1519.3,724.5 1489.3,741.8 1489.3,745.3 1519.3,728" fill="#fff" stroke="#000" stroke-width="2.8"/>
<ellipse cx="1496.5" cy="721.1" rx="3.6" ry="2.7" transform="rotate(0 1496.5 721.1)" fill="#000"/>
<polygon points="1118.7,1001.6 1555.9,749.1 1584.5,765.6 1584.5,770.8 1147.2,1023.3 1118.7,1006.8" fill="#fff" stroke="none"/>
<polygon points="1555.9,749.1 1584.5,765.6 1147.2,1018.1 1118.7,1001.6" fill="#fff" stroke="#000" stroke-width="2.8"/>
<polygon points="1118.7,1001.6 1147.2,1018.1 1147.2,1023.3 1118.7,1006.8" fill="#fff" stroke="#000" stroke-width="2.8"/>
<polygon points="1584.5,765.6 1147.2,1018.1 1147.2,1023.3 1584.5,770.8" fill="#fff" stroke="#000" stroke-width="2.8"/>

<polygon points="1526,762.9 1555.9,745.6 1584.5,762.1 1584.5,765.6 1554.5,782.9 1526,766.4" fill="#fff" stroke="none"/>
<polygon points="1555.9,745.6 1584.5,762.1 1554.5,779.4 1526,762.9" fill="#fff" stroke="#000" stroke-width="2.8"/>
<polygon points="1526,762.9 1554.5,779.4 1554.5,782.9 1526,766.4" fill="#fff" stroke="#000" stroke-width="2.8"/>
<polygon points="1584.5,762.1 1554.5,779.4 1554.5,782.9 1584.5,765.6" fill="#fff" stroke="#000" stroke-width="2.8"/>
<ellipse cx="1561.7" cy="758.8" rx="3.6" ry="2.7" transform="rotate(0 1561.7 758.8)" fill="#000"/>
<polygon points="1183.9,1039.3 1621.2,786.8 1649.7,803.3 1649.7,808.5 1212.5,1061 1183.9,1044.5" fill="#fff" stroke="none"/>
<polygon points="1621.2,786.8 1649.7,803.3 1212.5,1055.8 1183.9,1039.3" fill="#fff" stroke="#000" stroke-width="2.8"/>
<polygon points="1183.9,1039.3 1212.5,1055.8 1212.5,1061 1183.9,1044.5" fill="#fff" stroke="#000" stroke-width="2.8"/>
<polygon points="1649.7,803.3 1212.5,1055.8 1212.5,1061 1649.7,808.5" fill="#fff" stroke="#000" stroke-width="2.8"/>

<polygon points="1591.2,800.6 1621.2,783.3 1649.7,799.8 1649.7,803.3 1619.8,820.6 1591.2,804.1" fill="#fff" stroke="none"/>
<polygon points="1621.2,783.3 1649.7,799.8 1619.8,817.1 1591.2,800.6" fill="#fff" stroke="#000" stroke-width="2.8"/>
<polygon points="1591.2,800.6 1619.8,817.1 1619.8,820.6 1591.2,804.1" fill="#fff" stroke="#000" stroke-width="2.8"/>
<polygon points="1649.7,799.8 1619.8,817.1 1619.8,820.6 1649.7,803.3" fill="#fff" stroke="#000" stroke-width="2.8"/>
<ellipse cx="1627" cy="796.5" rx="3.6" ry="2.7" transform="rotate(0 1627 796.5)" fill="#000"/>
<polygon points="1249.1,1076.9 1686.4,824.5 1715,841 1715,846.2 1277.7,1098.6 1249.1,1082.1" fill="#fff" stroke="none"/>
<polygon points="1686.4,824.5 1715,841 1277.7,1093.4 1249.1,1076.9" fill="#fff" stroke="#000" stroke-width="2.8"/>
<polygon points="1249.1,1076.9 1277.7,1093.4 1277.7,1098.6 1249.1,1082.1" fill="#fff" stroke="#000" stroke-width="2.8"/>
<polygon points="1715,841 1277.7,1093.4 1277.7,1098.6 1715,846.2" fill="#fff" stroke="#000" stroke-width="2.8"/>

<polygon points="1656.4,838.3 1686.4,821 1715,837.5 1715,841 1685,858.3 1656.4,841.8" fill="#fff" stroke="none"/>
<polygon points="1686.4,821 1715,837.5 1685,854.8 1656.4,838.3" fill="#fff" stroke="#000" stroke-width="2.8"/>
<polygon points="1656.4,838.3 1685,854.8 1685,858.3 1656.4,841.8" fill="#fff" stroke="#000" stroke-width="2.8"/>
<polygon points="1715,837.5 1685,854.8 1685,858.3 1715,841" fill="#fff" stroke="#000" stroke-width="2.8"/>
<ellipse cx="1692.2" cy="834.1" rx="3.6" ry="2.7" transform="rotate(0 1692.2 834.1)" fill="#000"/>
<polygon points="1314.4,1114.6 1751.6,862.1 1780.2,878.6 1780.2,883.8 1343,1136.3 1314.4,1119.8" fill="#fff" stroke="none"/>
<polygon points="1751.6,862.1 1780.2,878.6 1343,1131.1 1314.4,1114.6" fill="#fff" stroke="#000" stroke-width="2.8"/>
<polygon points="1314.4,1114.6 1343,1131.1 1343,1136.3 1314.4,1119.8" fill="#fff" stroke="#000" stroke-width="2.8"/>
<polygon points="1780.2,878.6 1343,1131.1 1343,1136.3 1780.2,883.8" fill="#fff" stroke="#000" stroke-width="2.8"/>

<polygon points="1721.7,875.9 1751.6,858.6 1780.2,875.1 1780.2,878.6 1750.3,895.9 1721.7,879.4" fill="#fff" stroke="none"/>
<polygon points="1751.6,858.6 1780.2,875.1 1750.3,892.4 1721.7,875.9" fill="#fff" stroke="#000" stroke-width="2.8"/>
<polygon points="1721.7,875.9 1750.3,892.4 1750.3,895.9 1721.7,879.4" fill="#fff" stroke="#000" stroke-width="2.8"/>
<polygon points="1780.2,875.1 1750.3,892.4 1750.3,895.9 1780.2,878.6" fill="#fff" stroke="#000" stroke-width="2.8"/>
<ellipse cx="1757.4" cy="871.8" rx="3.6" ry="2.7" transform="rotate(0 1757.4 871.8)" fill="#000"/>
<polygon points="1379.6,1152.2 1816.9,899.8 1845.5,916.3 1845.5,921.5 1408.2,1174 1379.6,1157.5" fill="#fff" stroke="none"/>
<polygon points="1816.9,899.8 1845.5,916.3 1408.2,1168.8 1379.6,1152.2" fill="#fff" stroke="#000" stroke-width="2.8"/>
<polygon points="1379.6,1152.2 1408.2,1168.8 1408.2,1174 1379.6,1157.5" fill="#fff" stroke="#000" stroke-width="2.8"/>
<polygon points="1845.5,916.3 1408.2,1168.8 1408.2,1174 1845.5,921.5" fill="#fff" stroke="#000" stroke-width="2.8"/>

<polygon points="1786.9,913.6 1816.9,896.3 1845.5,912.8 1845.5,916.3 1815.5,933.6 1786.9,917.1" fill="#fff" stroke="none"/>
<polygon points="1816.9,896.3 1845.5,912.8 1815.5,930.1 1786.9,913.6" fill="#fff" stroke="#000" stroke-width="2.8"/>
<polygon points="1786.9,913.6 1815.5,930.1 1815.5,933.6 1786.9,917.1" fill="#fff" stroke="#000" stroke-width="2.8"/>
<polygon points="1845.5,912.8 1815.5,930.1 1815.5,933.6 1845.5,916.3" fill="#fff" stroke="#000" stroke-width="2.8"/>
<ellipse cx="1822.7" cy="909.5" rx="3.6" ry="2.7" transform="rotate(0 1822.7 909.5)" fill="#000"/>
<polygon points="1444.9,1189.9 1882.1,937.5 1910.7,954 1910.7,959.2 1473.4,1211.6 1444.9,1195.1" fill="#fff" stroke="none"/>
<polygon points="1882.1,937.5 1910.7,954 1473.4,1206.4 1444.9,1189.9" fill="#fff" stroke="#000" stroke-width="2.8"/>
<polygon points="1444.9,1189.9 1473.4,1206.4 1473.4,1211.6 1444.9,1195.1" fill="#fff" stroke="#000" stroke-width="2.8"/>
<polygon points="1910.7,954 1473.4,1206.4 1473.4,1211.6 1910.7,959.2" fill="#fff" stroke="#000" stroke-width="2.8"/>

<polygon points="1852.1,951.3 1882.1,934 1910.7,950.5 1910.7,954 1880.7,971.3 1852.1,954.8" fill="#fff" stroke="none"/>
<polygon points="1882.1,934 1910.7,950.5 1880.7,967.8 1852.1,951.3" fill="#fff" stroke="#000" stroke-width="2.8"/>
<polygon points="1852.1,951.3 1880.7,967.8 1880.7,971.3 1852.1,954.8" fill="#fff" stroke="#000" stroke-width="2.8"/>
<polygon points="1910.7,950.5 1880.7,967.8 1880.7,971.3 1910.7,954" fill="#fff" stroke="#000" stroke-width="2.8"/>
<ellipse cx="1887.9" cy="947.1" rx="3.6" ry="2.7" transform="rotate(0 1887.9 947.1)" fill="#000"/>
<polygon points="1510.1,1227.6 1947.3,975.1 1975.9,991.6 1975.9,996.8 1538.7,1249.3 1510.1,1232.8" fill="#fff" stroke="none"/>
<polygon points="1947.3,975.1 1975.9,991.6 1538.7,1244.1 1510.1,1227.6" fill="#fff" stroke="#000" stroke-width="2.8"/>
<polygon points="1510.1,1227.6 1538.7,1244.1 1538.7,1249.3 1510.1,1232.8" fill="#fff" stroke="#000" stroke-width="2.8"/>
<polygon points="1975.9,991.6 1538.7,1244.1 1538.7,1249.3 1975.9,996.8" fill="#fff" stroke="#000" stroke-width="2.8"/>

<polygon points="1917.4,988.9 1947.3,971.6 1975.9,988.1 1975.9,991.6 1946,1008.9 1917.4,992.4" fill="#fff" stroke="none"/>
<polygon points="1947.3,971.6 1975.9,988.1 1946,1005.4 1917.4,988.9" fill="#fff" stroke="#000" stroke-width="2.8"/>
<polygon points="1917.4,988.9 1946,1005.4 1946,1008.9 1917.4,992.4" fill="#fff" stroke="#000" stroke-width="2.8"/>
<polygon points="1975.9,988.1 1946,1005.4 1946,1008.9 1975.9,991.6" fill="#fff" stroke="#000" stroke-width="2.8"/>
<ellipse cx="1953.2" cy="984.8" rx="3.6" ry="2.7" transform="rotate(0 1953.2 984.8)" fill="#000"/>
<polygon points="1121,532.7 1952.4,1012.7 1943.2,1018 1111.8,538" fill="url(#hatch)" stroke="#111" stroke-width="1.2"/>
<polygon points="763.7,739 1595.1,1219 1585.6,1224.5 754.2,744.5" fill="url(#hatch)" stroke="#111" stroke-width="1.2"/>
<polygon points="1571.4,1248 2007.1,996.3 2016.3,1001.7 2016.3,1036.7 1580.5,1288.2 1571.4,1283" fill="#fff" stroke="none"/>
<polygon points="2007.1,996.3 2016.3,1001.7 1580.5,1253.2 1571.4,1248" fill="#fff" stroke="#000" stroke-width="2.8"/>
<polygon points="1571.4,1248 1580.5,1253.2 1580.5,1288.2 1571.4,1283" fill="#fff" stroke="#000" stroke-width="2.8"/>
<polygon points="2016.3,1001.7 1580.5,1253.2 1580.5,1288.2 2016.3,1036.7" fill="#fff" stroke="#000" stroke-width="2.8"/>

<polygon points="1987.7,855.2 2007.1,843.9 2016.3,849.3 2016.3,1001.7 1996.9,1012.9 1987.7,1007.6" fill="#fff" stroke="none"/>
<polygon points="2007.1,843.9 2016.3,849.3 1996.9,860.5 1987.7,855.2" fill="#fff" stroke="#000" stroke-width="2.8"/>
<polygon points="1987.7,855.2 1996.9,860.5 1996.9,1012.9 1987.7,1007.6" fill="#fff" stroke="#000" stroke-width="2.8"/>
<polygon points="2016.3,849.3 1996.9,860.5 1996.9,1012.9 2016.3,1001.7" fill="#fff" stroke="#000" stroke-width="2.8"/>

<polygon points="1592.5,1085.3 1989.5,856.2 1994.3,859 1994.3,1011.4 1597.3,1240.6 1592.5,1237.8" fill="#fff" stroke="none"/>
<polygon points="1989.5,856.2 1994.3,859 1597.3,1088.2 1592.5,1085.3" fill="#fff" stroke="#000" stroke-width="2.8"/>
<polygon points="1592.5,1085.3 1597.3,1088.2 1597.3,1240.6 1592.5,1237.8" fill="#fff" stroke="#000" stroke-width="2.8"/>
<polygon points="1994.3,859 1597.3,1088.2 1597.3,1240.6 1994.3,1011.4" fill="#fff" stroke="#000" stroke-width="2.8"/>
<polyline points="1994.3,927.5 1597.3,1156.7" fill="none" stroke="#000" stroke-width="5" /><polyline points="1991.7,1010.9 1597.3,1238.6" fill="none" stroke="#000" stroke-width="5.5" /><polyline points="1992.2,1012.6 1992.2,860.2" fill="none" stroke="#000" stroke-width="6" />
<polygon points="1571.4,1095.6 1590.8,1084.3 1599.9,1089.7 1599.9,1242.1 1580.5,1253.2 1571.4,1248" fill="#fff" stroke="none"/>
<polygon points="1590.8,1084.3 1599.9,1089.7 1580.5,1100.8 1571.4,1095.6" fill="#fff" stroke="#000" stroke-width="2.8"/>
<polygon points="1571.4,1095.6 1580.5,1100.8 1580.5,1253.2 1571.4,1248" fill="#fff" stroke="#000" stroke-width="2.8"/>
<polygon points="1599.9,1089.7 1580.5,1100.8 1580.5,1253.2 1599.9,1242.1" fill="#fff" stroke="#000" stroke-width="2.8"/>

<polygon points="1571.4,1061.6 2007.1,809.9 2016.3,815.3 2016.3,849.3 1580.5,1100.8 1571.4,1095.6" fill="#fff" stroke="none"/>
<polygon points="2007.1,809.9 2016.3,815.3 1580.5,1066.8 1571.4,1061.6" fill="#fff" stroke="#000" stroke-width="2.8"/>
<polygon points="1571.4,1061.6 1580.5,1066.8 1580.5,1100.8 1571.4,1095.6" fill="#fff" stroke="#000" stroke-width="2.8"/>
<polygon points="2016.3,815.3 1580.5,1066.8 1580.5,1100.8 2016.3,849.3" fill="#fff" stroke="#000" stroke-width="2.8"/>

<polygon points="639.3,1198.2 653.4,1190.2 679.8,1205.4 679.8,1434.4 665.8,1442.5 639.3,1427.2" fill="#fff" stroke="none"/>
<polygon points="653.4,1190.2 679.8,1205.4 665.8,1213.5 639.3,1198.2" fill="#fff" stroke="#000" stroke-width="2.8"/>
<polygon points="639.3,1198.2 665.8,1213.5 665.8,1442.5 639.3,1427.2" fill="#fff" stroke="#000" stroke-width="2.8"/>
<polygon points="679.8,1205.4 665.8,1213.5 665.8,1442.5 679.8,1434.4" fill="#fff" stroke="#000" stroke-width="2.8"/>

<polygon points="676.7,1249.4 688.8,1242.4 1550.9,1740.2 1550.9,1767 1538.8,1774 676.7,1276.2" fill="#fff" stroke="none"/>
<polygon points="688.8,1242.4 1550.9,1740.2 1538.8,1747.2 676.7,1249.4" fill="#fff" stroke="#000" stroke-width="2.8"/>
<polygon points="676.7,1249.4 1538.8,1747.2 1538.8,1774 676.7,1276.2" fill="#fff" stroke="#000" stroke-width="2.8"/>
<polygon points="1550.9,1740.2 1538.8,1747.2 1538.8,1774 1550.9,1767" fill="#fff" stroke="#000" stroke-width="2.8"/>

<polygon points="687.7,725.8 696.8,720.6 1559,1218.3 1559,1282.3 1549.9,1287.6 687.7,789.8" fill="#fff" stroke="none"/>
<polygon points="696.8,720.6 1559,1218.3 1549.9,1223.6 687.7,725.8" fill="#fff" stroke="#000" stroke-width="2.8"/>
<polygon points="687.7,725.8 1549.9,1223.6 1549.9,1287.6 687.7,789.8" fill="#fff" stroke="#000" stroke-width="2.8"/>
<polygon points="1559,1218.3 1549.9,1223.6 1549.9,1287.6 1559,1282.3" fill="#fff" stroke="#000" stroke-width="2.8"/>

<polygon points="687.7,652.1 696.8,646.9 1392.7,1048.6 1392.7,1082.1 1383.6,1087.4 687.7,685.6" fill="#fff" stroke="none"/>
<polygon points="696.8,646.9 1392.7,1048.6 1383.6,1053.9 687.7,652.1" fill="#fff" stroke="#000" stroke-width="2.8"/>
<polygon points="687.7,652.1 1383.6,1053.9 1383.6,1087.4 687.7,685.6" fill="#fff" stroke="#000" stroke-width="2.8"/>
<polygon points="1392.7,1048.6 1383.6,1053.9 1383.6,1087.4 1392.7,1082.1" fill="#fff" stroke="#000" stroke-width="2.8"/>

<polygon points="687.7,577.8 696.8,572.6 1392.7,974.3 1392.7,1007.8 1383.6,1013.1 687.7,611.3" fill="#fff" stroke="none"/>
<polygon points="696.8,572.6 1392.7,974.3 1383.6,979.6 687.7,577.8" fill="#fff" stroke="#000" stroke-width="2.8"/>
<polygon points="687.7,577.8 1383.6,979.6 1383.6,1013.1 687.7,611.3" fill="#fff" stroke="#000" stroke-width="2.8"/>
<polygon points="1392.7,974.3 1383.6,979.6 1383.6,1013.1 1392.7,1007.8" fill="#fff" stroke="#000" stroke-width="2.8"/>

<polygon points="998.7,762.8 1006.4,758.3 1034.3,774.4 1034.3,986.9 1026.6,991.3 998.7,975.2" fill="#fff" stroke="none"/>
<polygon points="1006.4,758.3 1034.3,774.4 1026.6,778.8 998.7,762.8" fill="#fff" stroke="#000" stroke-width="2.8"/>
<polygon points="998.7,762.8 1026.6,778.8 1026.6,991.3 998.7,975.2" fill="#fff" stroke="#000" stroke-width="2.8"/>
<polygon points="1034.3,774.4 1026.6,778.8 1026.6,991.3 1034.3,986.9" fill="#fff" stroke="#000" stroke-width="2.8"/>

<polygon points="1346.4,963.5 1354.2,959.1 1382.1,975.2 1382.1,1187.7 1374.4,1192.2 1346.4,1176" fill="#fff" stroke="none"/>
<polygon points="1354.2,959.1 1382.1,975.2 1374.4,979.7 1346.4,963.5" fill="#fff" stroke="#000" stroke-width="2.8"/>
<polygon points="1346.4,963.5 1374.4,979.7 1374.4,1192.2 1346.4,1176" fill="#fff" stroke="#000" stroke-width="2.8"/>
<polygon points="1382.1,975.2 1374.4,979.7 1374.4,1192.2 1382.1,1187.7" fill="#fff" stroke="#000" stroke-width="2.8"/>

<polygon points="504.2,1297.2 656.7,1209.2 665.8,1214.5 665.8,1263.5 513.3,1351.5 504.2,1346.2" fill="#fff" stroke="none"/>
<polygon points="656.7,1209.2 665.8,1214.5 513.3,1302.5 504.2,1297.2" fill="#fff" stroke="#000" stroke-width="2.8"/>
<polygon points="504.2,1297.2 513.3,1302.5 513.3,1351.5 504.2,1346.2" fill="#fff" stroke="#000" stroke-width="2.8"/>
<polygon points="665.8,1214.5 513.3,1302.5 513.3,1351.5 665.8,1263.5" fill="#fff" stroke="#000" stroke-width="2.8"/>

<polygon points="470,1296.5 486.5,1287 514.2,1303 514.2,1531 497.7,1540.5 470,1524.5" fill="#fff" stroke="none"/>
<polygon points="486.5,1287 514.2,1303 497.7,1312.5 470,1296.5" fill="#fff" stroke="#000" stroke-width="2.8"/>
<polygon points="470,1296.5 497.7,1312.5 497.7,1540.5 470,1524.5" fill="#fff" stroke="#000" stroke-width="2.8"/>
<polygon points="514.2,1303 497.7,1312.5 497.7,1540.5 514.2,1531" fill="#fff" stroke="#000" stroke-width="2.8"/>

<polygon points="511.2,1345 524.2,1337.5 1386.3,1835.2 1386.3,1862 1373.3,1869.5 511.2,1371.8" fill="#fff" stroke="none"/>
<polygon points="524.2,1337.5 1386.3,1835.2 1373.3,1842.7 511.2,1345" fill="#fff" stroke="#000" stroke-width="2.8"/>
<polygon points="511.2,1345 1373.3,1842.7 1373.3,1869.5 511.2,1371.8" fill="#fff" stroke="#000" stroke-width="2.8"/>
<polygon points="1386.3,1835.2 1373.3,1842.7 1373.3,1869.5 1386.3,1862" fill="#fff" stroke="#000" stroke-width="2.8"/>

<polygon points="641.6,1265.2 708.2,1265.2 738.9,1283 576.6,1376.7 512.6,1339.7" fill="#fff" stroke="#000" stroke-width="2.8"/><polygon points="641.6,1260.5 708.2,1260.5 738.9,1278.2 576.6,1372 512.6,1335" fill="#fff" stroke="#000" stroke-width="2.8"/><ellipse cx="557.6" cy="1322" rx="3.6" ry="2.7" transform="rotate(0 557.6 1322)" fill="#000"/><ellipse cx="633.4" cy="1278.7" rx="3.6" ry="2.7" transform="rotate(0 633.4 1278.7)" fill="#000"/><ellipse cx="716.9" cy="1271.5" rx="3.6" ry="2.7" transform="rotate(0 716.9 1271.5)" fill="#000"/>
<polygon points="613.2,1397.2 780.4,1300.7 808.9,1317.2 808.9,1322.4 641.8,1418.9 613.2,1402.4" fill="#fff" stroke="none"/>
<polygon points="780.4,1300.7 808.9,1317.2 641.8,1413.7 613.2,1397.2" fill="#fff" stroke="#000" stroke-width="2.8"/>
<polygon points="613.2,1397.2 641.8,1413.7 641.8,1418.9 613.2,1402.4" fill="#fff" stroke="#000" stroke-width="2.8"/>
<polygon points="808.9,1317.2 641.8,1413.7 641.8,1418.9 808.9,1322.4" fill="#fff" stroke="#000" stroke-width="2.8"/>

<polygon points="746.2,1316.9 780.4,1297.2 808.9,1313.7 808.9,1317.2 774.8,1336.9 746.2,1320.4" fill="#fff" stroke="none"/>
<polygon points="780.4,1297.2 808.9,1313.7 774.8,1333.4 746.2,1316.9" fill="#fff" stroke="#000" stroke-width="2.8"/>
<polygon points="746.2,1316.9 774.8,1333.4 774.8,1336.9 746.2,1320.4" fill="#fff" stroke="#000" stroke-width="2.8"/>
<polygon points="808.9,1313.7 774.8,1333.4 774.8,1336.9 808.9,1317.2" fill="#fff" stroke="#000" stroke-width="2.8"/>
<ellipse cx="786" cy="1310.4" rx="3.6" ry="2.7" transform="rotate(0 786 1310.4)" fill="#000"/>
<polygon points="678.4,1434.8 845.6,1338.3 874.2,1354.8 874.2,1360 707,1456.5 678.4,1440" fill="#fff" stroke="none"/>
<polygon points="845.6,1338.3 874.2,1354.8 707,1451.3 678.4,1434.8" fill="#fff" stroke="#000" stroke-width="2.8"/>
<polygon points="678.4,1434.8 707,1451.3 707,1456.5 678.4,1440" fill="#fff" stroke="#000" stroke-width="2.8"/>
<polygon points="874.2,1354.8 707,1451.3 707,1456.5 874.2,1360" fill="#fff" stroke="#000" stroke-width="2.8"/>

<polygon points="811.5,1354.5 845.6,1334.8 874.2,1351.3 874.2,1354.8 840,1374.5 811.5,1358" fill="#fff" stroke="none"/>
<polygon points="845.6,1334.8 874.2,1351.3 840,1371 811.5,1354.5" fill="#fff" stroke="#000" stroke-width="2.8"/>
<polygon points="811.5,1354.5 840,1371 840,1374.5 811.5,1358" fill="#fff" stroke="#000" stroke-width="2.8"/>
<polygon points="874.2,1351.3 840,1371 840,1374.5 874.2,1354.8" fill="#fff" stroke="#000" stroke-width="2.8"/>
<ellipse cx="851.2" cy="1348.1" rx="3.6" ry="2.7" transform="rotate(0 851.2 1348.1)" fill="#000"/>
<polygon points="743.7,1472.5 910.8,1376 939.4,1392.5 939.4,1397.7 772.3,1494.2 743.7,1477.7" fill="#fff" stroke="none"/>
<polygon points="910.8,1376 939.4,1392.5 772.3,1489 743.7,1472.5" fill="#fff" stroke="#000" stroke-width="2.8"/>
<polygon points="743.7,1472.5 772.3,1489 772.3,1494.2 743.7,1477.7" fill="#fff" stroke="#000" stroke-width="2.8"/>
<polygon points="939.4,1392.5 772.3,1489 772.3,1494.2 939.4,1397.7" fill="#fff" stroke="#000" stroke-width="2.8"/>

<polygon points="876.7,1392.2 910.8,1372.5 939.4,1389 939.4,1392.5 905.3,1412.2 876.7,1395.7" fill="#fff" stroke="none"/>
<polygon points="910.8,1372.5 939.4,1389 905.3,1408.7 876.7,1392.2" fill="#fff" stroke="#000" stroke-width="2.8"/>
<polygon points="876.7,1392.2 905.3,1408.7 905.3,1412.2 876.7,1395.7" fill="#fff" stroke="#000" stroke-width="2.8"/>
<polygon points="939.4,1389 905.3,1408.7 905.3,1412.2 939.4,1392.5" fill="#fff" stroke="#000" stroke-width="2.8"/>
<ellipse cx="916.5" cy="1385.7" rx="3.6" ry="2.7" transform="rotate(0 916.5 1385.7)" fill="#000"/>
<polygon points="808.9,1510.2 976.1,1413.7 1004.6,1430.2 1004.6,1435.4 837.5,1531.9 808.9,1515.4" fill="#fff" stroke="none"/>
<polygon points="976.1,1413.7 1004.6,1430.2 837.5,1526.7 808.9,1510.2" fill="#fff" stroke="#000" stroke-width="2.8"/>
<polygon points="808.9,1510.2 837.5,1526.7 837.5,1531.9 808.9,1515.4" fill="#fff" stroke="#000" stroke-width="2.8"/>
<polygon points="1004.6,1430.2 837.5,1526.7 837.5,1531.9 1004.6,1435.4" fill="#fff" stroke="#000" stroke-width="2.8"/>

<polygon points="941.9,1429.9 976.1,1410.2 1004.6,1426.7 1004.6,1430.2 970.5,1449.9 941.9,1433.4" fill="#fff" stroke="none"/>
<polygon points="976.1,1410.2 1004.6,1426.7 970.5,1446.4 941.9,1429.9" fill="#fff" stroke="#000" stroke-width="2.8"/>
<polygon points="941.9,1429.9 970.5,1446.4 970.5,1449.9 941.9,1433.4" fill="#fff" stroke="#000" stroke-width="2.8"/>
<polygon points="1004.6,1426.7 970.5,1446.4 970.5,1449.9 1004.6,1430.2" fill="#fff" stroke="#000" stroke-width="2.8"/>
<ellipse cx="981.7" cy="1423.4" rx="3.6" ry="2.7" transform="rotate(0 981.7 1423.4)" fill="#000"/>
<polygon points="874.2,1547.8 1041.3,1451.3 1069.9,1467.8 1069.9,1473 902.7,1569.5 874.2,1553" fill="#fff" stroke="none"/>
<polygon points="1041.3,1451.3 1069.9,1467.8 902.7,1564.3 874.2,1547.8" fill="#fff" stroke="#000" stroke-width="2.8"/>
<polygon points="874.2,1547.8 902.7,1564.3 902.7,1569.5 874.2,1553" fill="#fff" stroke="#000" stroke-width="2.8"/>
<polygon points="1069.9,1467.8 902.7,1564.3 902.7,1569.5 1069.9,1473" fill="#fff" stroke="#000" stroke-width="2.8"/>

<polygon points="1007.2,1467.5 1041.3,1447.8 1069.9,1464.3 1069.9,1467.8 1035.8,1487.5 1007.2,1471" fill="#fff" stroke="none"/>
<polygon points="1041.3,1447.8 1069.9,1464.3 1035.8,1484 1007.2,1467.5" fill="#fff" stroke="#000" stroke-width="2.8"/>
<polygon points="1007.2,1467.5 1035.8,1484 1035.8,1487.5 1007.2,1471" fill="#fff" stroke="#000" stroke-width="2.8"/>
<polygon points="1069.9,1464.3 1035.8,1484 1035.8,1487.5 1069.9,1467.8" fill="#fff" stroke="#000" stroke-width="2.8"/>
<ellipse cx="1046.9" cy="1461.1" rx="3.6" ry="2.7" transform="rotate(0 1046.9 1461.1)" fill="#000"/>
<polygon points="939.4,1585.5 1106.5,1489 1135.1,1505.5 1135.1,1510.7 968,1607.2 939.4,1590.7" fill="#fff" stroke="none"/>
<polygon points="1106.5,1489 1135.1,1505.5 968,1602 939.4,1585.5" fill="#fff" stroke="#000" stroke-width="2.8"/>
<polygon points="939.4,1585.5 968,1602 968,1607.2 939.4,1590.7" fill="#fff" stroke="#000" stroke-width="2.8"/>
<polygon points="1135.1,1505.5 968,1602 968,1607.2 1135.1,1510.7" fill="#fff" stroke="#000" stroke-width="2.8"/>

<polygon points="1072.4,1505.2 1106.5,1485.5 1135.1,1502 1135.1,1505.5 1101,1525.2 1072.4,1508.7" fill="#fff" stroke="none"/>
<polygon points="1106.5,1485.5 1135.1,1502 1101,1521.7 1072.4,1505.2" fill="#fff" stroke="#000" stroke-width="2.8"/>
<polygon points="1072.4,1505.2 1101,1521.7 1101,1525.2 1072.4,1508.7" fill="#fff" stroke="#000" stroke-width="2.8"/>
<polygon points="1135.1,1502 1101,1521.7 1101,1525.2 1135.1,1505.5" fill="#fff" stroke="#000" stroke-width="2.8"/>
<ellipse cx="1112.2" cy="1498.7" rx="3.6" ry="2.7" transform="rotate(0 1112.2 1498.7)" fill="#000"/>
<polygon points="1004.6,1623.2 1171.8,1526.7 1200.4,1543.2 1200.4,1548.4 1033.2,1644.9 1004.6,1628.4" fill="#fff" stroke="none"/>
<polygon points="1171.8,1526.7 1200.4,1543.2 1033.2,1639.7 1004.6,1623.2" fill="#fff" stroke="#000" stroke-width="2.8"/>
<polygon points="1004.6,1623.2 1033.2,1639.7 1033.2,1644.9 1004.6,1628.4" fill="#fff" stroke="#000" stroke-width="2.8"/>
<polygon points="1200.4,1543.2 1033.2,1639.7 1033.2,1644.9 1200.4,1548.4" fill="#fff" stroke="#000" stroke-width="2.8"/>

<polygon points="1137.7,1542.9 1171.8,1523.2 1200.4,1539.7 1200.4,1543.2 1166.2,1562.9 1137.7,1546.4" fill="#fff" stroke="none"/>
<polygon points="1171.8,1523.2 1200.4,1539.7 1166.2,1559.4 1137.7,1542.9" fill="#fff" stroke="#000" stroke-width="2.8"/>
<polygon points="1137.7,1542.9 1166.2,1559.4 1166.2,1562.9 1137.7,1546.4" fill="#fff" stroke="#000" stroke-width="2.8"/>
<polygon points="1200.4,1539.7 1166.2,1559.4 1166.2,1562.9 1200.4,1543.2" fill="#fff" stroke="#000" stroke-width="2.8"/>
<ellipse cx="1177.4" cy="1536.4" rx="3.6" ry="2.7" transform="rotate(0 1177.4 1536.4)" fill="#000"/>
<polygon points="1069.9,1660.8 1237,1564.3 1265.6,1580.8 1265.6,1586 1098.5,1682.5 1069.9,1666" fill="#fff" stroke="none"/>
<polygon points="1237,1564.3 1265.6,1580.8 1098.5,1677.3 1069.9,1660.8" fill="#fff" stroke="#000" stroke-width="2.8"/>
<polygon points="1069.9,1660.8 1098.5,1677.3 1098.5,1682.5 1069.9,1666" fill="#fff" stroke="#000" stroke-width="2.8"/>
<polygon points="1265.6,1580.8 1098.5,1677.3 1098.5,1682.5 1265.6,1586" fill="#fff" stroke="#000" stroke-width="2.8"/>

<polygon points="1202.9,1580.5 1237,1560.8 1265.6,1577.3 1265.6,1580.8 1231.5,1600.5 1202.9,1584" fill="#fff" stroke="none"/>
<polygon points="1237,1560.8 1265.6,1577.3 1231.5,1597 1202.9,1580.5" fill="#fff" stroke="#000" stroke-width="2.8"/>
<polygon points="1202.9,1580.5 1231.5,1597 1231.5,1600.5 1202.9,1584" fill="#fff" stroke="#000" stroke-width="2.8"/>
<polygon points="1265.6,1577.3 1231.5,1597 1231.5,1600.5 1265.6,1580.8" fill="#fff" stroke="#000" stroke-width="2.8"/>
<ellipse cx="1242.6" cy="1574.1" rx="3.6" ry="2.7" transform="rotate(0 1242.6 1574.1)" fill="#000"/>
<polygon points="1135.1,1698.5 1302.3,1602 1330.8,1618.5 1330.8,1623.7 1163.7,1720.2 1135.1,1703.7" fill="#fff" stroke="none"/>
<polygon points="1302.3,1602 1330.8,1618.5 1163.7,1715 1135.1,1698.5" fill="#fff" stroke="#000" stroke-width="2.8"/>
<polygon points="1135.1,1698.5 1163.7,1715 1163.7,1720.2 1135.1,1703.7" fill="#fff" stroke="#000" stroke-width="2.8"/>
<polygon points="1330.8,1618.5 1163.7,1715 1163.7,1720.2 1330.8,1623.7" fill="#fff" stroke="#000" stroke-width="2.8"/>

<polygon points="1268.1,1618.2 1302.3,1598.5 1330.8,1615 1330.8,1618.5 1296.7,1638.2 1268.1,1621.7" fill="#fff" stroke="none"/>
<polygon points="1302.3,1598.5 1330.8,1615 1296.7,1634.7 1268.1,1618.2" fill="#fff" stroke="#000" stroke-width="2.8"/>
<polygon points="1268.1,1618.2 1296.7,1634.7 1296.7,1638.2 1268.1,1621.7" fill="#fff" stroke="#000" stroke-width="2.8"/>
<polygon points="1330.8,1615 1296.7,1634.7 1296.7,1638.2 1330.8,1618.5" fill="#fff" stroke="#000" stroke-width="2.8"/>
<ellipse cx="1307.9" cy="1611.7" rx="3.6" ry="2.7" transform="rotate(0 1307.9 1611.7)" fill="#000"/>
<polygon points="1200.4,1736.2 1367.5,1639.7 1396.1,1656.2 1396.1,1661.4 1228.9,1757.9 1200.4,1741.4" fill="#fff" stroke="none"/>
<polygon points="1367.5,1639.7 1396.1,1656.2 1228.9,1752.7 1200.4,1736.2" fill="#fff" stroke="#000" stroke-width="2.8"/>
<polygon points="1200.4,1736.2 1228.9,1752.7 1228.9,1757.9 1200.4,1741.4" fill="#fff" stroke="#000" stroke-width="2.8"/>
<polygon points="1396.1,1656.2 1228.9,1752.7 1228.9,1757.9 1396.1,1661.4" fill="#fff" stroke="#000" stroke-width="2.8"/>

<polygon points="1333.4,1655.8 1367.5,1636.2 1396.1,1652.7 1396.1,1656.2 1362,1675.8 1333.4,1659.3" fill="#fff" stroke="none"/>
<polygon points="1367.5,1636.2 1396.1,1652.7 1362,1672.3 1333.4,1655.8" fill="#fff" stroke="#000" stroke-width="2.8"/>
<polygon points="1333.4,1655.8 1362,1672.3 1362,1675.8 1333.4,1659.3" fill="#fff" stroke="#000" stroke-width="2.8"/>
<polygon points="1396.1,1652.7 1362,1672.3 1362,1675.8 1396.1,1656.2" fill="#fff" stroke="#000" stroke-width="2.8"/>
<ellipse cx="1373.1" cy="1649.4" rx="3.6" ry="2.7" transform="rotate(0 1373.1 1649.4)" fill="#000"/>
<polygon points="1265.6,1773.8 1432.7,1677.3 1461.3,1693.8 1461.3,1699 1294.2,1795.5 1265.6,1779" fill="#fff" stroke="none"/>
<polygon points="1432.7,1677.3 1461.3,1693.8 1294.2,1790.3 1265.6,1773.8" fill="#fff" stroke="#000" stroke-width="2.8"/>
<polygon points="1265.6,1773.8 1294.2,1790.3 1294.2,1795.5 1265.6,1779" fill="#fff" stroke="#000" stroke-width="2.8"/>
<polygon points="1461.3,1693.8 1294.2,1790.3 1294.2,1795.5 1461.3,1699" fill="#fff" stroke="#000" stroke-width="2.8"/>

<polygon points="1398.6,1693.5 1432.7,1673.8 1461.3,1690.3 1461.3,1693.8 1427.2,1713.5 1398.6,1697" fill="#fff" stroke="none"/>
<polygon points="1432.7,1673.8 1461.3,1690.3 1427.2,1710 1398.6,1693.5" fill="#fff" stroke="#000" stroke-width="2.8"/>
<polygon points="1398.6,1693.5 1427.2,1710 1427.2,1713.5 1398.6,1697" fill="#fff" stroke="#000" stroke-width="2.8"/>
<polygon points="1461.3,1690.3 1427.2,1710 1427.2,1713.5 1461.3,1693.8" fill="#fff" stroke="#000" stroke-width="2.8"/>
<ellipse cx="1438.4" cy="1687.1" rx="3.6" ry="2.7" transform="rotate(0 1438.4 1687.1)" fill="#000"/>
<polygon points="1330.8,1811.5 1498,1715 1526.5,1731.5 1526.5,1736.7 1359.4,1833.2 1330.8,1816.7" fill="#fff" stroke="none"/>
<polygon points="1498,1715 1526.5,1731.5 1359.4,1828 1330.8,1811.5" fill="#fff" stroke="#000" stroke-width="2.8"/>
<polygon points="1330.8,1811.5 1359.4,1828 1359.4,1833.2 1330.8,1816.7" fill="#fff" stroke="#000" stroke-width="2.8"/>
<polygon points="1526.5,1731.5 1359.4,1828 1359.4,1833.2 1526.5,1736.7" fill="#fff" stroke="#000" stroke-width="2.8"/>

<polygon points="1463.8,1731.2 1498,1711.5 1526.5,1728 1526.5,1731.5 1492.4,1751.2 1463.8,1734.7" fill="#fff" stroke="none"/>
<polygon points="1498,1711.5 1526.5,1728 1492.4,1747.7 1463.8,1731.2" fill="#fff" stroke="#000" stroke-width="2.8"/>
<polygon points="1463.8,1731.2 1492.4,1747.7 1492.4,1751.2 1463.8,1734.7" fill="#fff" stroke="#000" stroke-width="2.8"/>
<polygon points="1526.5,1728 1492.4,1747.7 1492.4,1751.2 1526.5,1731.5" fill="#fff" stroke="#000" stroke-width="2.8"/>
<ellipse cx="1503.6" cy="1724.7" rx="3.6" ry="2.7" transform="rotate(0 1503.6 1724.7)" fill="#000"/>
<polygon points="709.6,1299.2 1496.8,1753.7 1487.3,1759.2 700,1304.7" fill="url(#hatch)" stroke="#111" stroke-width="1.2"/>
<polygon points="502.1,1313 511.2,1307.8 1373.3,1805.5 1373.3,1869.5 1364.2,1874.8 502.1,1377" fill="#fff" stroke="none"/>
<polygon points="511.2,1307.8 1373.3,1805.5 1364.2,1810.8 502.1,1313" fill="#fff" stroke="#000" stroke-width="2.8"/>
<polygon points="502.1,1313 1364.2,1810.8 1364.2,1874.8 502.1,1377" fill="#fff" stroke="#000" stroke-width="2.8"/>
<polygon points="1373.3,1805.5 1364.2,1810.8 1364.2,1874.8 1373.3,1869.5" fill="#fff" stroke="#000" stroke-width="2.8"/>

<polygon points="674.9,1275.5 710,1295.8 700.5,1301.2 665.4,1281" fill="url(#hatch)" stroke="#111" stroke-width="1.2"/>
<polygon points="1571.4,1728 2007.1,1476.3 2016.3,1481.7 2016.3,1519.7 1580.5,1771.2 1571.4,1766" fill="#fff" stroke="none"/>
<polygon points="2007.1,1476.3 2016.3,1481.7 1580.5,1733.2 1571.4,1728" fill="#fff" stroke="#000" stroke-width="2.8"/>
<polygon points="1571.4,1728 1580.5,1733.2 1580.5,1771.2 1571.4,1766" fill="#fff" stroke="#000" stroke-width="2.8"/>
<polygon points="2016.3,1481.7 1580.5,1733.2 1580.5,1771.2 2016.3,1519.7" fill="#fff" stroke="#000" stroke-width="2.8"/>

<polygon points="1987.7,1342.6 2007.1,1331.3 2016.3,1336.7 2016.3,1481.7 1996.9,1492.9 1987.7,1487.6" fill="#fff" stroke="none"/>
<polygon points="2007.1,1331.3 2016.3,1336.7 1996.9,1347.9 1987.7,1342.6" fill="#fff" stroke="#000" stroke-width="2.8"/>
<polygon points="1987.7,1342.6 1996.9,1347.9 1996.9,1492.9 1987.7,1487.6" fill="#fff" stroke="#000" stroke-width="2.8"/>
<polygon points="2016.3,1336.7 1996.9,1347.9 1996.9,1492.9 2016.3,1481.7" fill="#fff" stroke="#000" stroke-width="2.8"/>

<polygon points="1585.2,1577 1989.5,1343.6 1994.3,1346.4 1994.3,1491.4 1590.1,1724.8 1585.2,1722" fill="#fff" stroke="none"/>
<polygon points="1989.5,1343.6 1994.3,1346.4 1590.1,1579.8 1585.2,1577" fill="#fff" stroke="#000" stroke-width="2.8"/>
<polygon points="1585.2,1577 1590.1,1579.8 1590.1,1724.8 1585.2,1722" fill="#fff" stroke="#000" stroke-width="2.8"/>
<polygon points="1994.3,1346.4 1590.1,1579.8 1590.1,1724.8 1994.3,1491.4" fill="#fff" stroke="#000" stroke-width="2.8"/>
<polyline points="1994.3,1418.9 1590.1,1652.2" fill="none" stroke="#000" stroke-width="5" /><polyline points="1991.7,1490.9 1590.1,1722.8" fill="none" stroke="#000" stroke-width="5.5" /><polyline points="1992.2,1492.6 1992.2,1347.6" fill="none" stroke="#000" stroke-width="6" />
<polygon points="1571.4,1583 1583.5,1576 1592.7,1581.2 1592.7,1726.2 1580.5,1733.2 1571.4,1728" fill="#fff" stroke="none"/>
<polygon points="1583.5,1576 1592.7,1581.2 1580.5,1588.2 1571.4,1583" fill="#fff" stroke="#000" stroke-width="2.8"/>
<polygon points="1571.4,1583 1580.5,1588.2 1580.5,1733.2 1571.4,1728" fill="#fff" stroke="#000" stroke-width="2.8"/>
<polygon points="1592.7,1581.2 1580.5,1588.2 1580.5,1733.2 1592.7,1726.2" fill="#fff" stroke="#000" stroke-width="2.8"/>

<polygon points="1571.4,1549 2007.1,1297.3 2016.3,1302.7 2016.3,1336.7 1580.5,1588.2 1571.4,1583" fill="#fff" stroke="none"/>
<polygon points="2007.1,1297.3 2016.3,1302.7 1580.5,1554.2 1571.4,1549" fill="#fff" stroke="#000" stroke-width="2.8"/>
<polygon points="1571.4,1549 1580.5,1554.2 1580.5,1588.2 1571.4,1583" fill="#fff" stroke="#000" stroke-width="2.8"/>
<polygon points="2016.3,1302.7 1580.5,1554.2 1580.5,1588.2 2016.3,1336.7" fill="#fff" stroke="#000" stroke-width="2.8"/>

<polygon points="1545.5,1498.1 1562,1488.6 1589.7,1504.6 1589.7,1937.6 1573.3,1947.1 1545.5,1931.1" fill="#fff" stroke="none"/>
<polygon points="1562,1488.6 1589.7,1504.6 1573.3,1514.1 1545.5,1498.1" fill="#fff" stroke="#000" stroke-width="2.8"/>
<polygon points="1545.5,1498.1 1573.3,1514.1 1573.3,1947.1 1545.5,1931.1" fill="#fff" stroke="#000" stroke-width="2.8"/>
<polygon points="1589.7,1504.6 1573.3,1514.1 1573.3,1947.1 1589.7,1937.6" fill="#fff" stroke="#000" stroke-width="2.8"/>

<polygon points="1545.5,1062.1 1562,1052.6 1589.7,1068.6 1589.7,1504.6 1573.3,1514.1 1545.5,1498.1" fill="#fff" stroke="none"/>
<polygon points="1562,1052.6 1589.7,1068.6 1573.3,1078.1 1545.5,1062.1" fill="#fff" stroke="#000" stroke-width="2.8"/>
<polygon points="1545.5,1062.1 1573.3,1078.1 1573.3,1514.1 1545.5,1498.1" fill="#fff" stroke="#000" stroke-width="2.8"/>
<polygon points="1589.7,1068.6 1573.3,1078.1 1573.3,1514.1 1589.7,1504.6" fill="#fff" stroke="#000" stroke-width="2.8"/>

<polygon points="1530,1712.5 1544.1,1704.4 1570.5,1719.7 1570.5,1948.7 1556.5,1956.8 1530,1941.5" fill="#fff" stroke="none"/>
<polygon points="1544.1,1704.4 1570.5,1719.7 1556.5,1727.8 1530,1712.5" fill="#fff" stroke="#000" stroke-width="2.8"/>
<polygon points="1530,1712.5 1556.5,1727.8 1556.5,1956.8 1530,1941.5" fill="#fff" stroke="#000" stroke-width="2.8"/>
<polygon points="1570.5,1719.7 1556.5,1727.8 1556.5,1956.8 1570.5,1948.7" fill="#fff" stroke="#000" stroke-width="2.8"/>

<polygon points="1394.1,1811 1546.5,1723 1555.6,1728.2 1555.6,1777.2 1403.2,1865.2 1394.1,1860" fill="#fff" stroke="none"/>
<polygon points="1546.5,1723 1555.6,1728.2 1403.2,1816.2 1394.1,1811" fill="#fff" stroke="#000" stroke-width="2.8"/>
<polygon points="1394.1,1811 1403.2,1816.2 1403.2,1865.2 1394.1,1860" fill="#fff" stroke="#000" stroke-width="2.8"/>
<polygon points="1555.6,1728.2 1403.2,1816.2 1403.2,1865.2 1555.6,1777.2" fill="#fff" stroke="#000" stroke-width="2.8"/>

<polygon points="1359.9,1810.2 1376.3,1800.8 1404,1816.8 1404,2044.8 1387.6,2054.2 1359.9,2038.2" fill="#fff" stroke="none"/>
<polygon points="1376.3,1800.8 1404,1816.8 1387.6,1826.2 1359.9,1810.2" fill="#fff" stroke="#000" stroke-width="2.8"/>
<polygon points="1359.9,1810.2 1387.6,1826.2 1387.6,2054.2 1359.9,2038.2" fill="#fff" stroke="#000" stroke-width="2.8"/>
<polygon points="1404,1816.8 1387.6,1826.2 1387.6,2054.2 1404,2044.8" fill="#fff" stroke="#000" stroke-width="2.8"/>

<ellipse cx="670" cy="578.9" rx="2.7" ry="3.5" transform="rotate(-25 670 578.9)" fill="#000"/>
<ellipse cx="670" cy="767.8" rx="2.7" ry="3.5" transform="rotate(-25 670 767.8)" fill="#000"/>
<ellipse cx="670" cy="1066" rx="2.7" ry="3.5" transform="rotate(-25 670 1066)" fill="#000"/>
<ellipse cx="1559.2" cy="1093" rx="2.7" ry="3.5" transform="rotate(-25 1559.2 1093)" fill="#000"/>
<ellipse cx="1559" cy="1278.9" rx="2.7" ry="3.5" transform="rotate(-25 1559 1278.9)" fill="#000"/>
<ellipse cx="1558.8" cy="1574.2" rx="2.7" ry="3.5" transform="rotate(-25 1558.8 1574.2)" fill="#000"/>
<ellipse cx="2012.5" cy="1228.5" rx="2.7" ry="3.5" transform="rotate(-25 2012.5 1228.5)" fill="#000"/>
<ellipse cx="2012.5" cy="1259.8" rx="2.7" ry="3.5" transform="rotate(-25 2012.5 1259.8)" fill="#000"/>
<ellipse cx="1371.2" cy="1852.4" rx="2.7" ry="3.5" transform="rotate(-25 1371.2 1852.4)" fill="#000"/>
<ellipse cx="2033.2" cy="842" rx="2.6" ry="3.5" transform="rotate(25 2033.2 842)" fill="#000"/>
<ellipse cx="2033.2" cy="917" rx="2.6" ry="3.5" transform="rotate(25 2033.2 917)" fill="#000"/>
<ellipse cx="2033.2" cy="992" rx="2.6" ry="3.5" transform="rotate(25 2033.2 992)" fill="#000"/>
<ellipse cx="2033.2" cy="1015.9" rx="2.6" ry="3.5" transform="rotate(25 2033.2 1015.9)" fill="#000"/>
<ellipse cx="2033.3" cy="1479.5" rx="2.6" ry="3.5" transform="rotate(25 2033.3 1479.5)" fill="#000"/>
<ellipse cx="2033.3" cy="1503.7" rx="2.6" ry="3.5" transform="rotate(25 2033.3 1503.7)" fill="#000"/>
<ellipse cx="2033.3" cy="1527.9" rx="2.6" ry="3.5" transform="rotate(25 2033.3 1527.9)" fill="#000"/>
<ellipse cx="1580.8" cy="1739.9" rx="2.6" ry="3.5" transform="rotate(25 1580.8 1739.9)" fill="#000"/>
<ellipse cx="1580.8" cy="1764.4" rx="2.6" ry="3.5" transform="rotate(25 1580.8 1764.4)" fill="#000"/>
<ellipse cx="1580.8" cy="1789" rx="2.6" ry="3.5" transform="rotate(25 1580.8 1789)" fill="#000"/>
<ellipse cx="1580.7" cy="1250.9" rx="2.6" ry="3.5" transform="rotate(25 1580.7 1250.9)" fill="#000"/>
<ellipse cx="1580.7" cy="1277.3" rx="2.6" ry="3.5" transform="rotate(25 1580.7 1277.3)" fill="#000"/>
<ellipse cx="1394.5" cy="1840.8" rx="2.6" ry="3.5" transform="rotate(25 1394.5 1840.8)" fill="#000"/>
<ellipse cx="1394.5" cy="1866.7" rx="2.6" ry="3.5" transform="rotate(25 1394.5 1866.7)" fill="#000"/>
<ellipse cx="1114.7" cy="318.2" rx="2.6" ry="3.3" transform="rotate(25 1114.7 318.2)" fill="#000"/>
<ellipse cx="1113.9" cy="512.7" rx="2.6" ry="3.3" transform="rotate(25 1113.9 512.7)" fill="#000"/>
<ellipse cx="643.8" cy="1247.2" rx="2.6" ry="3.3" transform="rotate(25 643.8 1247.2)" fill="#000"/>
<ellipse cx="1151.6" cy="338.3" rx="2.6" ry="3.3" transform="rotate(-25 1151.6 338.3)" fill="#000"/>
<ellipse cx="1151.6" cy="413.3" rx="2.6" ry="3.3" transform="rotate(-25 1151.6 413.3)" fill="#000"/>
<ellipse cx="1151.6" cy="488.4" rx="2.6" ry="3.3" transform="rotate(-25 1151.6 488.4)" fill="#000"/>
<ellipse cx="1151.4" cy="512.7" rx="2.6" ry="3.3" transform="rotate(-25 1151.4 512.7)" fill="#000"/>
<ellipse cx="1564.7" cy="567.9" rx="2.6" ry="3.3" transform="rotate(-25 1564.7 567.9)" fill="#000"/>
<ellipse cx="1574.4" cy="593.8" rx="2.6" ry="3.3" transform="rotate(-25 1574.4 593.8)" fill="#000"/>
<ellipse cx="1564.7" cy="642.3" rx="2.6" ry="3.3" transform="rotate(-25 1564.7 642.3)" fill="#000"/>
<ellipse cx="1574.4" cy="668.2" rx="2.6" ry="3.3" transform="rotate(-25 1574.4 668.2)" fill="#000"/>
<ellipse cx="1569.9" cy="718.7" rx="2.6" ry="3.3" transform="rotate(-25 1569.9 718.7)" fill="#000"/>
<ellipse cx="1570.5" cy="743.3" rx="2.6" ry="3.3" transform="rotate(-25 1570.5 743.3)" fill="#000"/>
<ellipse cx="693.5" cy="1219.3" rx="1.8" ry="2.2" transform="rotate(0 693.5 1219.3)" fill="#000"/>
<ellipse cx="693.5" cy="1228.6" rx="1.8" ry="2.2" transform="rotate(0 693.5 1228.6)" fill="#000"/>
<ellipse cx="693.5" cy="1236.3" rx="1.8" ry="2.2" transform="rotate(0 693.5 1236.3)" fill="#000"/>
<polygon points="1027.9,2030 1038.2,2036 1385.3,1141.6 1375,1135.6" fill="#fff" stroke="#000" stroke-width="2.8"/><polygon points="1375,1135.6 1385.3,1141.6 1395.9,1134.5 1385.6,1128.5" fill="#fff" stroke="#000" stroke-width="2.8"/><polygon points="1038.2,2036 1072,2016.5 1395.9,1181.5 1395.9,1134.5 1385.3,1141.6" fill="#fff" stroke="#000" stroke-width="2.8"/>
<polygon points="1340.3,1314.5 1483.1,1396.9 1454.5,1413.4 1311.8,1331" fill="#fff" stroke="#000" stroke-width="2.8"/><polygon points="1311.8,1331 1454.5,1413.4 1454.5,1426.4 1311.8,1344" fill="#fff" stroke="#000" stroke-width="2.8"/>
<polygon points="1273.8,1485.9 1416.5,1568.3 1388,1584.8 1245.2,1502.4" fill="#fff" stroke="#000" stroke-width="2.8"/><polygon points="1245.2,1502.4 1388,1584.8 1388,1597.8 1245.2,1515.4" fill="#fff" stroke="#000" stroke-width="2.8"/>
<polygon points="1195.3,1688.3 1338,1770.7 1309.5,1787.2 1166.7,1704.8" fill="#fff" stroke="#000" stroke-width="2.8"/><polygon points="1166.7,1704.8 1309.5,1787.2 1309.5,1800.2 1166.7,1717.8" fill="#fff" stroke="#000" stroke-width="2.8"/>
<polygon points="1118,1887.6 1260.7,1970 1232.1,1986.5 1089.4,1904.1" fill="#fff" stroke="#000" stroke-width="2.8"/><polygon points="1089.4,1904.1 1232.1,1986.5 1232.1,1999.5 1089.4,1917.1" fill="#fff" stroke="#000" stroke-width="2.8"/>
<polygon points="1181,2118.3 1191.3,2124.3 1538.3,1229.9 1528,1224" fill="#fff" stroke="#000" stroke-width="2.8"/><polygon points="1528,1224 1538.3,1229.9 1548.9,1222.8 1538.6,1216.8" fill="#fff" stroke="#000" stroke-width="2.8"/><polygon points="1191.3,2124.3 1225,2104.8 1548.9,1269.8 1548.9,1222.8 1538.3,1229.9" fill="#fff" stroke="#000" stroke-width="2.8"/><ellipse cx="1485.7" cy="1411.8" rx="2.6" ry="3.4" transform="rotate(25 1485.7 1411.8)" fill="#000"/><ellipse cx="1418.9" cy="1582.6" rx="2.6" ry="3.4" transform="rotate(25 1418.9 1582.6)" fill="#000"/><ellipse cx="1341" cy="1784.1" rx="2.6" ry="3.4" transform="rotate(25 1341 1784.1)" fill="#000"/><ellipse cx="1262.1" cy="1986" rx="2.6" ry="3.4" transform="rotate(25 1262.1 1986)" fill="#000"/>
<rect x="1372" y="1250.9" width="126" height="46.5" fill="#fff"/>
<rect x="1300.9" y="1433.6" width="104" height="46.5" fill="#fff"/>
<rect x="1210.5" y="1632.7" width="126" height="46.5" fill="#fff"/>
<rect x="1143.5" y="1830" width="126" height="46.5" fill="#fff"/>
<rect x="1404.7" y="1013" width="126" height="46.5" fill="#fff"/>
<text x="843.6" y="84.3" textLength="838.5" lengthAdjust="spacingAndGlyphs">Inner Size (Upper) : 76.00&quot; W X 38.75&quot; D</text>
<text x="843.6" y="136.7" textLength="841" lengthAdjust="spacingAndGlyphs">Inner Size (Lower) : 76.00&quot; W X 55.00&quot; D</text>
<polyline points="621.5,571 621.5,1165.4" fill="none" stroke="#000" stroke-width="2.8" stroke-linecap="butt"/><polygon points="621.5,551 634,576.5 609,576.5" fill="#000" stroke="#000" stroke-width="1" stroke-linejoin="miter"/><polygon points="621.5,1185.4 609,1159.9 634,1159.9" fill="#000" stroke="#000" stroke-width="1" stroke-linejoin="miter"/>
<text x="502.3" y="846.8">48.00&quot;</text>
<polyline points="445.2,1325.7 445.2,1495.3" fill="none" stroke="#000" stroke-width="2.8" stroke-linecap="butt"/><polygon points="445.2,1305.7 457.7,1331.2 432.7,1331.2" fill="#000" stroke="#000" stroke-width="1" stroke-linejoin="miter"/><polygon points="445.2,1515.3 432.7,1489.8 457.7,1489.8" fill="#000" stroke="#000" stroke-width="1" stroke-linejoin="miter"/>
<text x="326.9" y="1419.5">17.00&quot;</text>
<polyline points="481.4,1265.8 602,1195.5" fill="none" stroke="#000" stroke-width="2.8" stroke-linecap="butt"/><polygon points="464.1,1275.9 479.8,1252.3 492.4,1273.9" fill="#000" stroke="#000" stroke-width="1" stroke-linejoin="miter"/><polygon points="619.3,1185.4 603.6,1209 591,1187.4" fill="#000" stroke="#000" stroke-width="1" stroke-linejoin="miter"/>
<text x="450.1" y="1216.4">16.00&quot;</text>
<polyline points="788,862.8 788,1276.7" fill="none" stroke="#000" stroke-width="2.8" stroke-linecap="butt"/><polygon points="788,842.8 800.5,868.3 775.5,868.3" fill="#000" stroke="#000" stroke-width="1" stroke-linejoin="miter"/><polygon points="788,1296.7 775.5,1271.2 800.5,1271.2" fill="#000" stroke="#000" stroke-width="1" stroke-linejoin="miter"/>
<text x="800.7" y="1063.8">31.50&quot;</text>
<polyline points="1280.2,410 1280.2,577.8" fill="none" stroke="#000" stroke-width="2.8" stroke-linecap="butt"/><polygon points="1280.2,390 1292.7,415.5 1267.7,415.5" fill="#000" stroke="#000" stroke-width="1" stroke-linejoin="miter"/><polygon points="1280.2,597.8 1267.7,572.3 1292.7,572.3" fill="#000" stroke="#000" stroke-width="1" stroke-linejoin="miter"/>
<text x="1299.1" y="388.2">14.00&quot;</text>
<polyline points="1267.9,707.8 1935.4,707.8" fill="none" stroke="#000" stroke-width="2.8" stroke-linecap="butt"/><polygon points="1247.9,707.8 1273.4,695.3 1273.4,720.3" fill="#000" stroke="#000" stroke-width="1" stroke-linejoin="miter"/>
<text x="1950.7" y="714.5">38.25&quot;</text>
<polyline points="1408,1002.5 1438.3,1020" fill="none" stroke="#000" stroke-width="2.8" stroke-linecap="butt"/><polyline points="1501.5,1056.5 1525.6,1070.4" fill="none" stroke="#000" stroke-width="2.8" stroke-linecap="butt"/><polygon points="1390.7,992.5 1419,994.4 1406.5,1016.1" fill="#000" stroke="#000" stroke-width="1" stroke-linejoin="miter"/><polygon points="1542.9,1080.4 1514.6,1078.5 1527.1,1056.8" fill="#000" stroke="#000" stroke-width="1" stroke-linejoin="miter"/>
<text x="1406.6" y="1050.5">14.50&quot;</text>
<polyline points="2068.3,856 2068.3,1143.7" fill="none" stroke="#000" stroke-width="2.8" stroke-linecap="butt"/><polyline points="2068.3,1192.5 2068.3,1657.5" fill="none" stroke="#000" stroke-width="2.8" stroke-linecap="butt"/><polygon points="2068.3,836 2080.8,861.5 2055.8,861.5" fill="#000" stroke="#000" stroke-width="1" stroke-linejoin="miter"/><polygon points="2068.3,1677.5 2055.8,1652 2080.8,1652" fill="#000" stroke="#000" stroke-width="1" stroke-linejoin="miter"/>
<text x="2054.5" y="1184">65.00&quot;</text>
<polyline points="1982.7,1096.7 1982.7,1286.9" fill="none" stroke="#000" stroke-width="2.8" stroke-linecap="butt"/><polygon points="1982.7,1076.7 1995.2,1102.2 1970.2,1102.2" fill="#000" stroke="#000" stroke-width="1" stroke-linejoin="miter"/><polygon points="1982.7,1306.9 1970.2,1281.4 1995.2,1281.4" fill="#000" stroke="#000" stroke-width="1" stroke-linejoin="miter"/>
<text x="1853.4" y="1231.5">19.75&quot;</text>
<polyline points="1977.8,1560.5 1977.8,1687" fill="none" stroke="#000" stroke-width="2.8" stroke-linecap="butt"/><polygon points="1977.8,1540.5 1990.3,1566 1965.3,1566" fill="#000" stroke="#000" stroke-width="1" stroke-linejoin="miter"/><polygon points="1977.8,1707 1965.3,1681.5 1990.3,1681.5" fill="#000" stroke="#000" stroke-width="1" stroke-linejoin="miter"/>
<text x="1853.4" y="1668">12.50&quot;</text>
<polyline points="1431.4,1191.1 1431.4,1253.1" fill="none" stroke="#000" stroke-width="2.8" stroke-linecap="butt"/><polyline points="1431.4,1293.1 1431.4,1372.4" fill="none" stroke="#000" stroke-width="2.8" stroke-linecap="butt"/><polygon points="1431.4,1171.1 1443.9,1196.6 1418.9,1196.6" fill="#000" stroke="#000" stroke-width="1" stroke-linejoin="miter"/><polygon points="1431.4,1392.4 1418.9,1366.9 1443.9,1366.9" fill="#000" stroke="#000" stroke-width="1" stroke-linejoin="miter"/>
<text x="1373.9" y="1288.4">12.00&quot;</text>
<polyline points="1340,1369 1340,1437" fill="none" stroke="#000" stroke-width="2.8" stroke-linecap="butt"/><polyline points="1340,1477 1340,1533.4" fill="none" stroke="#000" stroke-width="2.8" stroke-linecap="butt"/><polygon points="1340,1349 1352.5,1374.5 1327.5,1374.5" fill="#000" stroke="#000" stroke-width="1" stroke-linejoin="miter"/><polygon points="1340,1553.4 1327.5,1527.9 1352.5,1527.9" fill="#000" stroke="#000" stroke-width="1" stroke-linejoin="miter"/>
<text x="1304.9" y="1471.1">9.50&quot;</text>
<polyline points="1265.8,1533.6 1265.8,1631.6" fill="none" stroke="#000" stroke-width="2.8" stroke-linecap="butt"/><polyline points="1265.8,1679.6 1265.8,1733" fill="none" stroke="#000" stroke-width="2.8" stroke-linecap="butt"/><polygon points="1265.8,1513.6 1278.3,1539.1 1253.3,1539.1" fill="#000" stroke="#000" stroke-width="1" stroke-linejoin="miter"/><polygon points="1265.8,1753 1253.3,1727.5 1278.3,1727.5" fill="#000" stroke="#000" stroke-width="1" stroke-linejoin="miter"/>
<text x="1212.4" y="1670.2">11.25&quot;</text>
<polyline points="1191.3,1736.7 1191.3,1824.1" fill="none" stroke="#000" stroke-width="2.8" stroke-linecap="butt"/><polyline points="1191.3,1875.9 1191.3,1932.2" fill="none" stroke="#000" stroke-width="2.8" stroke-linecap="butt"/><polygon points="1191.3,1716.7 1203.8,1742.2 1178.8,1742.2" fill="#000" stroke="#000" stroke-width="1" stroke-linejoin="miter"/><polygon points="1191.3,1952.2 1178.8,1926.7 1203.8,1926.7" fill="#000" stroke="#000" stroke-width="1" stroke-linejoin="miter"/>
<text x="1145.4" y="1867.5">12.00&quot;</text>
<polyline points="1136.4,1955.4 1136.4,2002.8" fill="none" stroke="#000" stroke-width="2.8" stroke-linecap="butt"/><polyline points="1136.4,2050 1136.4,2071.3" fill="none" stroke="#000" stroke-width="2.8" stroke-linecap="butt"/><polygon points="1136.4,1935.4 1148.9,1960.9 1123.9,1960.9" fill="#000" stroke="#000" stroke-width="1" stroke-linejoin="miter"/><polygon points="1136.4,2091.3 1123.9,2065.8 1148.9,2065.8" fill="#000" stroke="#000" stroke-width="1" stroke-linejoin="miter"/>
<text x="1091.6" y="2039.7">8.75&quot;</text>
<line x1="470.8" y1="1532" x2="470.8" y2="2419.4" stroke="#000" stroke-width="2.8" stroke-dasharray="15 6" stroke-linecap="butt"/>
<line x1="497.2" y1="1545" x2="497.2" y2="2363.2" stroke="#000" stroke-width="2.8" stroke-dasharray="15 6" stroke-linecap="butt"/>
<line x1="1026.1" y1="2034" x2="1026.1" y2="2316.6" stroke="#000" stroke-width="2.8" stroke-dasharray="15 6" stroke-linecap="butt"/>
<line x1="1038.5" y1="2040" x2="1038.5" y2="2248.6" stroke="#000" stroke-width="2.8" stroke-dasharray="15 6" stroke-linecap="butt"/>
<line x1="1179.8" y1="2123" x2="1179.8" y2="2248.6" stroke="#000" stroke-width="2.8" stroke-dasharray="15 6" stroke-linecap="butt"/>
<line x1="1189.1" y1="2128" x2="1189.1" y2="2316.6" stroke="#000" stroke-width="2.8" stroke-dasharray="15 6" stroke-linecap="butt"/>
<line x1="1225.8" y1="2109" x2="1225.8" y2="2196.5" stroke="#000" stroke-width="2.8" stroke-dasharray="15 6" stroke-linecap="butt"/>
<line x1="1384.8" y1="2058" x2="1384.8" y2="2363.2" stroke="#000" stroke-width="2.8" stroke-dasharray="15 6" stroke-linecap="butt"/>
<line x1="1400.3" y1="2050" x2="1400.3" y2="2419.4" stroke="#000" stroke-width="2.8" stroke-dasharray="15 6" stroke-linecap="butt"/>
<line x1="1572.4" y1="1951" x2="1572.4" y2="2248.6" stroke="#000" stroke-width="2.8" stroke-dasharray="15 6" stroke-linecap="butt"/>
<line x1="1589.1" y1="1943" x2="1589.1" y2="2197.4" stroke="#000" stroke-width="2.8" stroke-dasharray="15 6" stroke-linecap="butt"/>
<line x1="2025.8" y1="1692" x2="2025.8" y2="2197.4" stroke="#000" stroke-width="2.8" stroke-dasharray="15 6" stroke-linecap="butt"/>
<line x1="2041.9" y1="1684" x2="2041.9" y2="2419.4" stroke="#000" stroke-width="2.8" stroke-dasharray="15 6" stroke-linecap="butt"/>
<polyline points="1245.8,2196.5 1380.3,2196.5" fill="none" stroke="#000" stroke-width="2.8" stroke-linecap="butt"/><polygon points="1225.8,2196.5 1251.3,2184 1251.3,2209" fill="#000" stroke="#000" stroke-width="1" stroke-linejoin="miter"/><polygon points="1400.3,2196.5 1374.8,2209 1374.8,2184" fill="#000" stroke="#000" stroke-width="1" stroke-linejoin="miter"/>
<text x="1254.4" y="2185.6">12.75&quot;</text>
<polyline points="1058.5,2248.6 1159.8,2248.6" fill="none" stroke="#000" stroke-width="2.8" stroke-linecap="butt"/><polygon points="1038.5,2248.6 1064,2236.1 1064,2261.1" fill="#000" stroke="#000" stroke-width="1" stroke-linejoin="miter"/><polygon points="1179.8,2248.6 1154.3,2261.1 1154.3,2236.1" fill="#000" stroke="#000" stroke-width="1" stroke-linejoin="miter"/>
<text x="1053.9" y="2232">11.75&quot;</text>
<polyline points="1209.1,2248.6 1380.3,2248.6" fill="none" stroke="#000" stroke-width="2.8" stroke-linecap="butt"/><polygon points="1189.1,2248.6 1214.6,2236.1 1214.6,2261.1" fill="#000" stroke="#000" stroke-width="1" stroke-linejoin="miter"/><polygon points="1400.3,2248.6 1374.8,2261.1 1374.8,2236.1" fill="#000" stroke="#000" stroke-width="1" stroke-linejoin="miter"/>
<text x="1246.6" y="2240">17.25&quot;</text>
<polyline points="1046.1,2316.6 1169.1,2316.6" fill="none" stroke="#000" stroke-width="2.8" stroke-linecap="butt"/><polygon points="1026.1,2316.6 1051.6,2304.1 1051.6,2329.1" fill="#000" stroke="#000" stroke-width="1" stroke-linejoin="miter"/><polygon points="1189.1,2316.6 1163.6,2329.1 1163.6,2304.1" fill="#000" stroke="#000" stroke-width="1" stroke-linejoin="miter"/>
<text x="1053.9" y="2302">13.50&quot;</text>
<polyline points="1209.1,2316.6 1726.7,2316.6" fill="none" stroke="#000" stroke-width="2.8" stroke-linecap="butt"/><polyline points="1858.7,2316.6 2021.9,2316.6" fill="none" stroke="#000" stroke-width="2.8" stroke-linecap="butt"/><polygon points="1189.1,2316.6 1214.6,2304.1 1214.6,2329.1" fill="#000" stroke="#000" stroke-width="1" stroke-linejoin="miter"/><polygon points="2041.9,2316.6 2016.4,2329.1 2016.4,2304.1" fill="#000" stroke="#000" stroke-width="1" stroke-linejoin="miter"/>
<text x="1734" y="2334.7">73.00&quot;</text>
<polyline points="1609.1,2197.4 1726.7,2197.4" fill="none" stroke="#000" stroke-width="2.8" stroke-linecap="butt"/><polyline points="1858.7,2197.4 2005.8,2197.4" fill="none" stroke="#000" stroke-width="2.8" stroke-linecap="butt"/><polygon points="1589.1,2197.4 1614.6,2184.9 1614.6,2209.9" fill="#000" stroke="#000" stroke-width="1" stroke-linejoin="miter"/><polygon points="2025.8,2197.4 2000.3,2209.9 2000.3,2184.9" fill="#000" stroke="#000" stroke-width="1" stroke-linejoin="miter"/>
<text x="1733.5" y="2208.9">37.75&quot;</text>
<polyline points="1592.4,2248.6 1722,2248.6" fill="none" stroke="#000" stroke-width="2.8" stroke-linecap="butt"/><polyline points="1858.7,2248.6 2021.9,2248.6" fill="none" stroke="#000" stroke-width="2.8" stroke-linecap="butt"/><polygon points="1572.4,2248.6 1597.9,2236.1 1597.9,2261.1" fill="#000" stroke="#000" stroke-width="1" stroke-linejoin="miter"/><polygon points="2041.9,2248.6 2016.4,2261.1 2016.4,2236.1" fill="#000" stroke="#000" stroke-width="1" stroke-linejoin="miter"/>
<text x="1730.4" y="2266.3">40.75&quot;</text>
<polyline points="517.2,2363.2 886,2363.2" fill="none" stroke="#000" stroke-width="2.8" stroke-linecap="butt"/><polyline points="1026,2363.2 1364.8,2363.2" fill="none" stroke="#000" stroke-width="2.8" stroke-linecap="butt"/><polygon points="497.2,2363.2 522.7,2350.7 522.7,2375.7" fill="#000" stroke="#000" stroke-width="1" stroke-linejoin="miter"/><polygon points="1384.8,2363.2 1359.3,2375.7 1359.3,2350.7" fill="#000" stroke="#000" stroke-width="1" stroke-linejoin="miter"/>
<text x="894.9" y="2378.1">74.75&quot;</text>
<polyline points="490.8,2419.4 864.3,2419.4" fill="none" stroke="#000" stroke-width="2.8" stroke-linecap="butt"/><polyline points="1026,2419.4 1380.3,2419.4" fill="none" stroke="#000" stroke-width="2.8" stroke-linecap="butt"/><polygon points="470.8,2419.4 496.3,2406.9 496.3,2431.9" fill="#000" stroke="#000" stroke-width="1" stroke-linejoin="miter"/><polygon points="1400.3,2419.4 1374.8,2431.9 1374.8,2406.9" fill="#000" stroke="#000" stroke-width="1" stroke-linejoin="miter"/>
<text x="893.3" y="2437.1">79.50&quot;</text>
<polyline points="1420.3,2419.4 1728.3,2419.4" fill="none" stroke="#000" stroke-width="2.8" stroke-linecap="butt"/><polyline points="1857.1,2419.4 2021.9,2419.4" fill="none" stroke="#000" stroke-width="2.8" stroke-linecap="butt"/><polygon points="1400.3,2419.4 1425.8,2406.9 1425.8,2431.9" fill="#000" stroke="#000" stroke-width="1" stroke-linejoin="miter"/><polygon points="2041.9,2419.4 2016.4,2431.9 2016.4,2406.9" fill="#000" stroke="#000" stroke-width="1" stroke-linejoin="miter"/>
<text x="1730.4" y="2432.5">56.75&quot;</text>
</svg></body></html>
